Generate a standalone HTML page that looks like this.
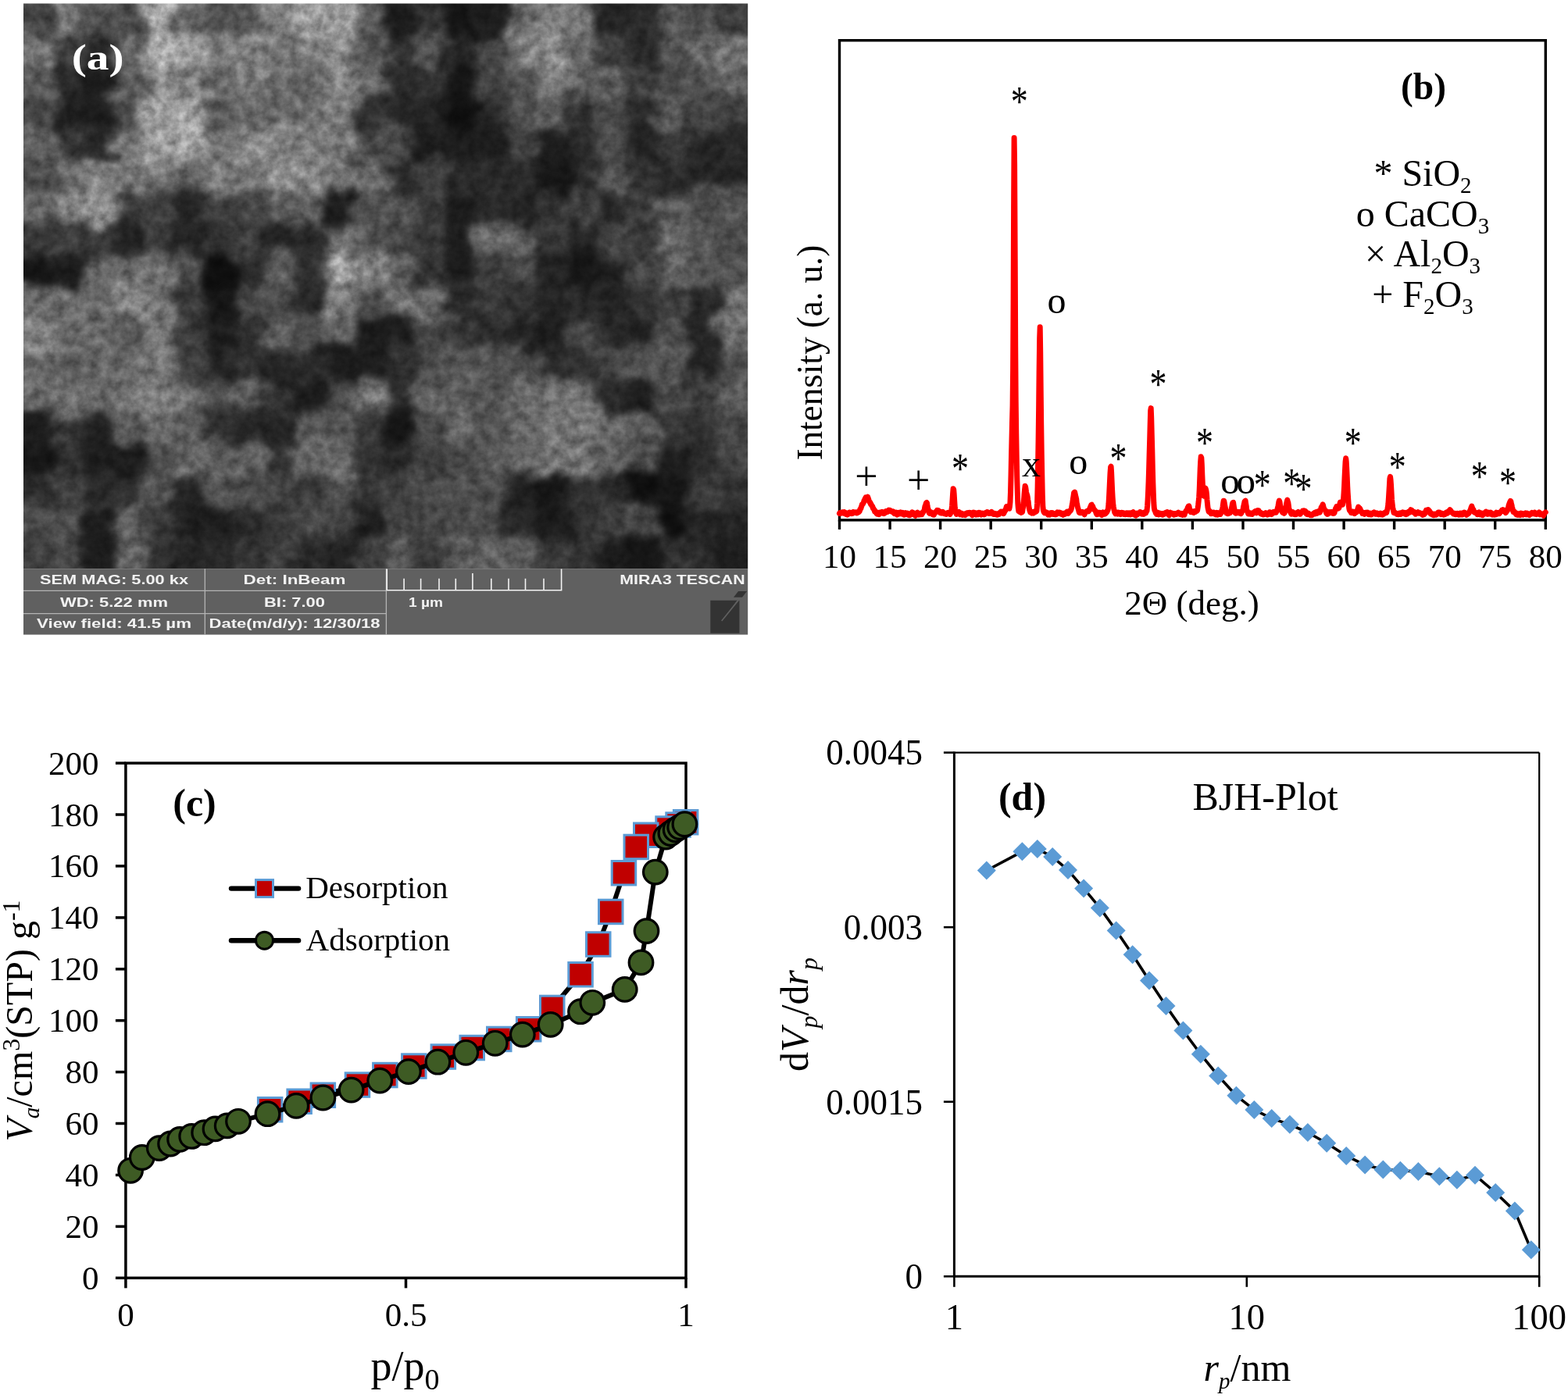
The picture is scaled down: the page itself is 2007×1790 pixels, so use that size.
<!DOCTYPE html>
<html><head><meta charset="utf-8"><title>Figure</title>
<style>html,body{margin:0;padding:0;background:#fff;}svg{display:block;}</style>
</head><body>
<svg width="2007" height="1790" viewBox="0 0 2007 1790">
<defs><clipPath id="semclip"><rect x="30" y="4.6" width="927.2" height="723.6"/></clipPath>
<filter id="semf" x="-100" y="-100" width="1200" height="920" filterUnits="userSpaceOnUse" color-interpolation-filters="sRGB"><feTurbulence type="fractalNoise" baseFrequency="0.035" numOctaves="3" seed="11" result="dn"/><feDisplacementMap in="SourceGraphic" in2="dn" scale="44" xChannelSelector="R" yChannelSelector="G" result="d"/><feGaussianBlur in="d" stdDeviation="5" result="b"/><feTurbulence type="fractalNoise" baseFrequency="0.07" numOctaves="4" seed="5" result="n"/><feColorMatrix in="n" type="matrix" values="1 0 0 0 0 1 0 0 0 0 1 0 0 0 0 0 0 0 0 1" result="ng"/><feComposite in="b" in2="ng" operator="arithmetic" k1="0.8" k2="0.6" k3="0" k4="0"/></filter></defs>
<g clip-path="url(#semclip)"><g filter="url(#semf)">
<rect x="-8.6" y="-35.6" width="39.2" height="40.8" fill="rgb(69,69,69)"/>
<rect x="30" y="-35.6" width="39.2" height="40.8" fill="rgb(69,69,69)"/>
<rect x="68.6" y="-35.6" width="39.2" height="40.8" fill="rgb(116,116,116)"/>
<rect x="107.3" y="-35.6" width="39.2" height="40.8" fill="rgb(83,83,83)"/>
<rect x="145.9" y="-35.6" width="39.2" height="40.8" fill="rgb(76,76,76)"/>
<rect x="184.5" y="-35.6" width="39.2" height="40.8" fill="rgb(170,170,170)"/>
<rect x="223.2" y="-35.6" width="39.2" height="40.8" fill="rgb(103,103,103)"/>
<rect x="261.8" y="-35.6" width="39.2" height="40.8" fill="rgb(76,76,76)"/>
<rect x="300.4" y="-35.6" width="39.2" height="40.8" fill="rgb(90,90,90)"/>
<rect x="339.1" y="-35.6" width="39.2" height="40.8" fill="rgb(130,130,130)"/>
<rect x="377.7" y="-35.6" width="39.2" height="40.8" fill="rgb(157,157,157)"/>
<rect x="416.3" y="-35.6" width="39.2" height="40.8" fill="rgb(157,157,157)"/>
<rect x="455" y="-35.6" width="39.2" height="40.8" fill="rgb(90,90,90)"/>
<rect x="493.6" y="-35.6" width="39.2" height="40.8" fill="rgb(29,29,29)"/>
<rect x="532.2" y="-35.6" width="39.2" height="40.8" fill="rgb(49,49,49)"/>
<rect x="570.9" y="-35.6" width="39.2" height="40.8" fill="rgb(22,22,22)"/>
<rect x="609.5" y="-35.6" width="39.2" height="40.8" fill="rgb(29,29,29)"/>
<rect x="648.1" y="-35.6" width="39.2" height="40.8" fill="rgb(103,103,103)"/>
<rect x="686.8" y="-35.6" width="39.2" height="40.8" fill="rgb(130,130,130)"/>
<rect x="725.4" y="-35.6" width="39.2" height="40.8" fill="rgb(116,116,116)"/>
<rect x="764" y="-35.6" width="39.2" height="40.8" fill="rgb(36,36,36)"/>
<rect x="802.7" y="-35.6" width="39.2" height="40.8" fill="rgb(42,42,42)"/>
<rect x="841.3" y="-35.6" width="39.2" height="40.8" fill="rgb(83,83,83)"/>
<rect x="879.9" y="-35.6" width="39.2" height="40.8" fill="rgb(76,76,76)"/>
<rect x="918.6" y="-35.6" width="39.2" height="40.8" fill="rgb(62,62,62)"/>
<rect x="957.2" y="-35.6" width="39.2" height="40.8" fill="rgb(62,62,62)"/>
<rect x="-8.6" y="4.6" width="39.2" height="40.8" fill="rgb(69,69,69)"/>
<rect x="30" y="4.6" width="39.2" height="40.8" fill="rgb(69,69,69)"/>
<rect x="68.6" y="4.6" width="39.2" height="40.8" fill="rgb(116,116,116)"/>
<rect x="107.3" y="4.6" width="39.2" height="40.8" fill="rgb(83,83,83)"/>
<rect x="145.9" y="4.6" width="39.2" height="40.8" fill="rgb(76,76,76)"/>
<rect x="184.5" y="4.6" width="39.2" height="40.8" fill="rgb(170,170,170)"/>
<rect x="223.2" y="4.6" width="39.2" height="40.8" fill="rgb(103,103,103)"/>
<rect x="261.8" y="4.6" width="39.2" height="40.8" fill="rgb(76,76,76)"/>
<rect x="300.4" y="4.6" width="39.2" height="40.8" fill="rgb(90,90,90)"/>
<rect x="339.1" y="4.6" width="39.2" height="40.8" fill="rgb(130,130,130)"/>
<rect x="377.7" y="4.6" width="39.2" height="40.8" fill="rgb(157,157,157)"/>
<rect x="416.3" y="4.6" width="39.2" height="40.8" fill="rgb(157,157,157)"/>
<rect x="455" y="4.6" width="39.2" height="40.8" fill="rgb(90,90,90)"/>
<rect x="493.6" y="4.6" width="39.2" height="40.8" fill="rgb(29,29,29)"/>
<rect x="532.2" y="4.6" width="39.2" height="40.8" fill="rgb(49,49,49)"/>
<rect x="570.9" y="4.6" width="39.2" height="40.8" fill="rgb(22,22,22)"/>
<rect x="609.5" y="4.6" width="39.2" height="40.8" fill="rgb(29,29,29)"/>
<rect x="648.1" y="4.6" width="39.2" height="40.8" fill="rgb(103,103,103)"/>
<rect x="686.8" y="4.6" width="39.2" height="40.8" fill="rgb(130,130,130)"/>
<rect x="725.4" y="4.6" width="39.2" height="40.8" fill="rgb(116,116,116)"/>
<rect x="764" y="4.6" width="39.2" height="40.8" fill="rgb(36,36,36)"/>
<rect x="802.7" y="4.6" width="39.2" height="40.8" fill="rgb(42,42,42)"/>
<rect x="841.3" y="4.6" width="39.2" height="40.8" fill="rgb(83,83,83)"/>
<rect x="879.9" y="4.6" width="39.2" height="40.8" fill="rgb(76,76,76)"/>
<rect x="918.6" y="4.6" width="39.2" height="40.8" fill="rgb(62,62,62)"/>
<rect x="957.2" y="4.6" width="39.2" height="40.8" fill="rgb(62,62,62)"/>
<rect x="-8.6" y="44.8" width="39.2" height="40.8" fill="rgb(116,116,116)"/>
<rect x="30" y="44.8" width="39.2" height="40.8" fill="rgb(116,116,116)"/>
<rect x="68.6" y="44.8" width="39.2" height="40.8" fill="rgb(62,62,62)"/>
<rect x="107.3" y="44.8" width="39.2" height="40.8" fill="rgb(36,36,36)"/>
<rect x="145.9" y="44.8" width="39.2" height="40.8" fill="rgb(103,103,103)"/>
<rect x="184.5" y="44.8" width="39.2" height="40.8" fill="rgb(170,170,170)"/>
<rect x="223.2" y="44.8" width="39.2" height="40.8" fill="rgb(157,157,157)"/>
<rect x="261.8" y="44.8" width="39.2" height="40.8" fill="rgb(123,123,123)"/>
<rect x="300.4" y="44.8" width="39.2" height="40.8" fill="rgb(130,130,130)"/>
<rect x="339.1" y="44.8" width="39.2" height="40.8" fill="rgb(116,116,116)"/>
<rect x="377.7" y="44.8" width="39.2" height="40.8" fill="rgb(123,123,123)"/>
<rect x="416.3" y="44.8" width="39.2" height="40.8" fill="rgb(144,144,144)"/>
<rect x="455" y="44.8" width="39.2" height="40.8" fill="rgb(83,83,83)"/>
<rect x="493.6" y="44.8" width="39.2" height="40.8" fill="rgb(49,49,49)"/>
<rect x="532.2" y="44.8" width="39.2" height="40.8" fill="rgb(83,83,83)"/>
<rect x="570.9" y="44.8" width="39.2" height="40.8" fill="rgb(36,36,36)"/>
<rect x="609.5" y="44.8" width="39.2" height="40.8" fill="rgb(69,69,69)"/>
<rect x="648.1" y="44.8" width="39.2" height="40.8" fill="rgb(123,123,123)"/>
<rect x="686.8" y="44.8" width="39.2" height="40.8" fill="rgb(137,137,137)"/>
<rect x="725.4" y="44.8" width="39.2" height="40.8" fill="rgb(103,103,103)"/>
<rect x="764" y="44.8" width="39.2" height="40.8" fill="rgb(62,62,62)"/>
<rect x="802.7" y="44.8" width="39.2" height="40.8" fill="rgb(42,42,42)"/>
<rect x="841.3" y="44.8" width="39.2" height="40.8" fill="rgb(83,83,83)"/>
<rect x="879.9" y="44.8" width="39.2" height="40.8" fill="rgb(103,103,103)"/>
<rect x="918.6" y="44.8" width="39.2" height="40.8" fill="rgb(116,116,116)"/>
<rect x="957.2" y="44.8" width="39.2" height="40.8" fill="rgb(116,116,116)"/>
<rect x="-8.6" y="85" width="39.2" height="40.8" fill="rgb(90,90,90)"/>
<rect x="30" y="85" width="39.2" height="40.8" fill="rgb(90,90,90)"/>
<rect x="68.6" y="85" width="39.2" height="40.8" fill="rgb(42,42,42)"/>
<rect x="107.3" y="85" width="39.2" height="40.8" fill="rgb(29,29,29)"/>
<rect x="145.9" y="85" width="39.2" height="40.8" fill="rgb(90,90,90)"/>
<rect x="184.5" y="85" width="39.2" height="40.8" fill="rgb(137,137,137)"/>
<rect x="223.2" y="85" width="39.2" height="40.8" fill="rgb(130,130,130)"/>
<rect x="261.8" y="85" width="39.2" height="40.8" fill="rgb(103,103,103)"/>
<rect x="300.4" y="85" width="39.2" height="40.8" fill="rgb(123,123,123)"/>
<rect x="339.1" y="85" width="39.2" height="40.8" fill="rgb(103,103,103)"/>
<rect x="377.7" y="85" width="39.2" height="40.8" fill="rgb(103,103,103)"/>
<rect x="416.3" y="85" width="39.2" height="40.8" fill="rgb(130,130,130)"/>
<rect x="455" y="85" width="39.2" height="40.8" fill="rgb(103,103,103)"/>
<rect x="493.6" y="85" width="39.2" height="40.8" fill="rgb(42,42,42)"/>
<rect x="532.2" y="85" width="39.2" height="40.8" fill="rgb(49,49,49)"/>
<rect x="570.9" y="85" width="39.2" height="40.8" fill="rgb(22,22,22)"/>
<rect x="609.5" y="85" width="39.2" height="40.8" fill="rgb(69,69,69)"/>
<rect x="648.1" y="85" width="39.2" height="40.8" fill="rgb(83,83,83)"/>
<rect x="686.8" y="85" width="39.2" height="40.8" fill="rgb(130,130,130)"/>
<rect x="725.4" y="85" width="39.2" height="40.8" fill="rgb(90,90,90)"/>
<rect x="764" y="85" width="39.2" height="40.8" fill="rgb(90,90,90)"/>
<rect x="802.7" y="85" width="39.2" height="40.8" fill="rgb(62,62,62)"/>
<rect x="841.3" y="85" width="39.2" height="40.8" fill="rgb(69,69,69)"/>
<rect x="879.9" y="85" width="39.2" height="40.8" fill="rgb(83,83,83)"/>
<rect x="918.6" y="85" width="39.2" height="40.8" fill="rgb(96,96,96)"/>
<rect x="957.2" y="85" width="39.2" height="40.8" fill="rgb(96,96,96)"/>
<rect x="-8.6" y="125.2" width="39.2" height="40.8" fill="rgb(69,69,69)"/>
<rect x="30" y="125.2" width="39.2" height="40.8" fill="rgb(69,69,69)"/>
<rect x="68.6" y="125.2" width="39.2" height="40.8" fill="rgb(29,29,29)"/>
<rect x="107.3" y="125.2" width="39.2" height="40.8" fill="rgb(29,29,29)"/>
<rect x="145.9" y="125.2" width="39.2" height="40.8" fill="rgb(76,76,76)"/>
<rect x="184.5" y="125.2" width="39.2" height="40.8" fill="rgb(157,157,157)"/>
<rect x="223.2" y="125.2" width="39.2" height="40.8" fill="rgb(157,157,157)"/>
<rect x="261.8" y="125.2" width="39.2" height="40.8" fill="rgb(90,90,90)"/>
<rect x="300.4" y="125.2" width="39.2" height="40.8" fill="rgb(103,103,103)"/>
<rect x="339.1" y="125.2" width="39.2" height="40.8" fill="rgb(103,103,103)"/>
<rect x="377.7" y="125.2" width="39.2" height="40.8" fill="rgb(110,110,110)"/>
<rect x="416.3" y="125.2" width="39.2" height="40.8" fill="rgb(123,123,123)"/>
<rect x="455" y="125.2" width="39.2" height="40.8" fill="rgb(49,49,49)"/>
<rect x="493.6" y="125.2" width="39.2" height="40.8" fill="rgb(36,36,36)"/>
<rect x="532.2" y="125.2" width="39.2" height="40.8" fill="rgb(36,36,36)"/>
<rect x="570.9" y="125.2" width="39.2" height="40.8" fill="rgb(15,15,15)"/>
<rect x="609.5" y="125.2" width="39.2" height="40.8" fill="rgb(42,42,42)"/>
<rect x="648.1" y="125.2" width="39.2" height="40.8" fill="rgb(76,76,76)"/>
<rect x="686.8" y="125.2" width="39.2" height="40.8" fill="rgb(90,90,90)"/>
<rect x="725.4" y="125.2" width="39.2" height="40.8" fill="rgb(49,49,49)"/>
<rect x="764" y="125.2" width="39.2" height="40.8" fill="rgb(69,69,69)"/>
<rect x="802.7" y="125.2" width="39.2" height="40.8" fill="rgb(42,42,42)"/>
<rect x="841.3" y="125.2" width="39.2" height="40.8" fill="rgb(90,90,90)"/>
<rect x="879.9" y="125.2" width="39.2" height="40.8" fill="rgb(69,69,69)"/>
<rect x="918.6" y="125.2" width="39.2" height="40.8" fill="rgb(62,62,62)"/>
<rect x="957.2" y="125.2" width="39.2" height="40.8" fill="rgb(62,62,62)"/>
<rect x="-8.6" y="165.4" width="39.2" height="40.8" fill="rgb(96,96,96)"/>
<rect x="30" y="165.4" width="39.2" height="40.8" fill="rgb(96,96,96)"/>
<rect x="68.6" y="165.4" width="39.2" height="40.8" fill="rgb(56,56,56)"/>
<rect x="107.3" y="165.4" width="39.2" height="40.8" fill="rgb(42,42,42)"/>
<rect x="145.9" y="165.4" width="39.2" height="40.8" fill="rgb(116,116,116)"/>
<rect x="184.5" y="165.4" width="39.2" height="40.8" fill="rgb(157,157,157)"/>
<rect x="223.2" y="165.4" width="39.2" height="40.8" fill="rgb(164,164,164)"/>
<rect x="261.8" y="165.4" width="39.2" height="40.8" fill="rgb(116,116,116)"/>
<rect x="300.4" y="165.4" width="39.2" height="40.8" fill="rgb(137,137,137)"/>
<rect x="339.1" y="165.4" width="39.2" height="40.8" fill="rgb(130,130,130)"/>
<rect x="377.7" y="165.4" width="39.2" height="40.8" fill="rgb(123,123,123)"/>
<rect x="416.3" y="165.4" width="39.2" height="40.8" fill="rgb(116,116,116)"/>
<rect x="455" y="165.4" width="39.2" height="40.8" fill="rgb(76,76,76)"/>
<rect x="493.6" y="165.4" width="39.2" height="40.8" fill="rgb(69,69,69)"/>
<rect x="532.2" y="165.4" width="39.2" height="40.8" fill="rgb(29,29,29)"/>
<rect x="570.9" y="165.4" width="39.2" height="40.8" fill="rgb(29,29,29)"/>
<rect x="609.5" y="165.4" width="39.2" height="40.8" fill="rgb(29,29,29)"/>
<rect x="648.1" y="165.4" width="39.2" height="40.8" fill="rgb(62,62,62)"/>
<rect x="686.8" y="165.4" width="39.2" height="40.8" fill="rgb(29,29,29)"/>
<rect x="725.4" y="165.4" width="39.2" height="40.8" fill="rgb(42,42,42)"/>
<rect x="764" y="165.4" width="39.2" height="40.8" fill="rgb(76,76,76)"/>
<rect x="802.7" y="165.4" width="39.2" height="40.8" fill="rgb(36,36,36)"/>
<rect x="841.3" y="165.4" width="39.2" height="40.8" fill="rgb(56,56,56)"/>
<rect x="879.9" y="165.4" width="39.2" height="40.8" fill="rgb(36,36,36)"/>
<rect x="918.6" y="165.4" width="39.2" height="40.8" fill="rgb(42,42,42)"/>
<rect x="957.2" y="165.4" width="39.2" height="40.8" fill="rgb(42,42,42)"/>
<rect x="-8.6" y="205.6" width="39.2" height="40.8" fill="rgb(76,76,76)"/>
<rect x="30" y="205.6" width="39.2" height="40.8" fill="rgb(76,76,76)"/>
<rect x="68.6" y="205.6" width="39.2" height="40.8" fill="rgb(103,103,103)"/>
<rect x="107.3" y="205.6" width="39.2" height="40.8" fill="rgb(130,130,130)"/>
<rect x="145.9" y="205.6" width="39.2" height="40.8" fill="rgb(116,116,116)"/>
<rect x="184.5" y="205.6" width="39.2" height="40.8" fill="rgb(116,116,116)"/>
<rect x="223.2" y="205.6" width="39.2" height="40.8" fill="rgb(103,103,103)"/>
<rect x="261.8" y="205.6" width="39.2" height="40.8" fill="rgb(123,123,123)"/>
<rect x="300.4" y="205.6" width="39.2" height="40.8" fill="rgb(116,116,116)"/>
<rect x="339.1" y="205.6" width="39.2" height="40.8" fill="rgb(137,137,137)"/>
<rect x="377.7" y="205.6" width="39.2" height="40.8" fill="rgb(137,137,137)"/>
<rect x="416.3" y="205.6" width="39.2" height="40.8" fill="rgb(116,116,116)"/>
<rect x="455" y="205.6" width="39.2" height="40.8" fill="rgb(103,103,103)"/>
<rect x="493.6" y="205.6" width="39.2" height="40.8" fill="rgb(42,42,42)"/>
<rect x="532.2" y="205.6" width="39.2" height="40.8" fill="rgb(62,62,62)"/>
<rect x="570.9" y="205.6" width="39.2" height="40.8" fill="rgb(42,42,42)"/>
<rect x="609.5" y="205.6" width="39.2" height="40.8" fill="rgb(42,42,42)"/>
<rect x="648.1" y="205.6" width="39.2" height="40.8" fill="rgb(42,42,42)"/>
<rect x="686.8" y="205.6" width="39.2" height="40.8" fill="rgb(22,22,22)"/>
<rect x="725.4" y="205.6" width="39.2" height="40.8" fill="rgb(42,42,42)"/>
<rect x="764" y="205.6" width="39.2" height="40.8" fill="rgb(83,83,83)"/>
<rect x="802.7" y="205.6" width="39.2" height="40.8" fill="rgb(49,49,49)"/>
<rect x="841.3" y="205.6" width="39.2" height="40.8" fill="rgb(42,42,42)"/>
<rect x="879.9" y="205.6" width="39.2" height="40.8" fill="rgb(36,36,36)"/>
<rect x="918.6" y="205.6" width="39.2" height="40.8" fill="rgb(36,36,36)"/>
<rect x="957.2" y="205.6" width="39.2" height="40.8" fill="rgb(36,36,36)"/>
<rect x="-8.6" y="245.8" width="39.2" height="40.8" fill="rgb(103,103,103)"/>
<rect x="30" y="245.8" width="39.2" height="40.8" fill="rgb(103,103,103)"/>
<rect x="68.6" y="245.8" width="39.2" height="40.8" fill="rgb(130,130,130)"/>
<rect x="107.3" y="245.8" width="39.2" height="40.8" fill="rgb(144,144,144)"/>
<rect x="145.9" y="245.8" width="39.2" height="40.8" fill="rgb(56,56,56)"/>
<rect x="184.5" y="245.8" width="39.2" height="40.8" fill="rgb(62,62,62)"/>
<rect x="223.2" y="245.8" width="39.2" height="40.8" fill="rgb(36,36,36)"/>
<rect x="261.8" y="245.8" width="39.2" height="40.8" fill="rgb(62,62,62)"/>
<rect x="300.4" y="245.8" width="39.2" height="40.8" fill="rgb(69,69,69)"/>
<rect x="339.1" y="245.8" width="39.2" height="40.8" fill="rgb(90,90,90)"/>
<rect x="377.7" y="245.8" width="39.2" height="40.8" fill="rgb(90,90,90)"/>
<rect x="416.3" y="245.8" width="39.2" height="40.8" fill="rgb(29,29,29)"/>
<rect x="455" y="245.8" width="39.2" height="40.8" fill="rgb(76,76,76)"/>
<rect x="493.6" y="245.8" width="39.2" height="40.8" fill="rgb(83,83,83)"/>
<rect x="532.2" y="245.8" width="39.2" height="40.8" fill="rgb(56,56,56)"/>
<rect x="570.9" y="245.8" width="39.2" height="40.8" fill="rgb(29,29,29)"/>
<rect x="609.5" y="245.8" width="39.2" height="40.8" fill="rgb(42,42,42)"/>
<rect x="648.1" y="245.8" width="39.2" height="40.8" fill="rgb(36,36,36)"/>
<rect x="686.8" y="245.8" width="39.2" height="40.8" fill="rgb(49,49,49)"/>
<rect x="725.4" y="245.8" width="39.2" height="40.8" fill="rgb(62,62,62)"/>
<rect x="764" y="245.8" width="39.2" height="40.8" fill="rgb(42,42,42)"/>
<rect x="802.7" y="245.8" width="39.2" height="40.8" fill="rgb(62,62,62)"/>
<rect x="841.3" y="245.8" width="39.2" height="40.8" fill="rgb(90,90,90)"/>
<rect x="879.9" y="245.8" width="39.2" height="40.8" fill="rgb(76,76,76)"/>
<rect x="918.6" y="245.8" width="39.2" height="40.8" fill="rgb(83,83,83)"/>
<rect x="957.2" y="245.8" width="39.2" height="40.8" fill="rgb(83,83,83)"/>
<rect x="-8.6" y="286" width="39.2" height="40.8" fill="rgb(56,56,56)"/>
<rect x="30" y="286" width="39.2" height="40.8" fill="rgb(56,56,56)"/>
<rect x="68.6" y="286" width="39.2" height="40.8" fill="rgb(62,62,62)"/>
<rect x="107.3" y="286" width="39.2" height="40.8" fill="rgb(56,56,56)"/>
<rect x="145.9" y="286" width="39.2" height="40.8" fill="rgb(36,36,36)"/>
<rect x="184.5" y="286" width="39.2" height="40.8" fill="rgb(62,62,62)"/>
<rect x="223.2" y="286" width="39.2" height="40.8" fill="rgb(36,36,36)"/>
<rect x="261.8" y="286" width="39.2" height="40.8" fill="rgb(49,49,49)"/>
<rect x="300.4" y="286" width="39.2" height="40.8" fill="rgb(62,62,62)"/>
<rect x="339.1" y="286" width="39.2" height="40.8" fill="rgb(36,36,36)"/>
<rect x="377.7" y="286" width="39.2" height="40.8" fill="rgb(42,42,42)"/>
<rect x="416.3" y="286" width="39.2" height="40.8" fill="rgb(116,116,116)"/>
<rect x="455" y="286" width="39.2" height="40.8" fill="rgb(83,83,83)"/>
<rect x="493.6" y="286" width="39.2" height="40.8" fill="rgb(69,69,69)"/>
<rect x="532.2" y="286" width="39.2" height="40.8" fill="rgb(56,56,56)"/>
<rect x="570.9" y="286" width="39.2" height="40.8" fill="rgb(29,29,29)"/>
<rect x="609.5" y="286" width="39.2" height="40.8" fill="rgb(103,103,103)"/>
<rect x="648.1" y="286" width="39.2" height="40.8" fill="rgb(96,96,96)"/>
<rect x="686.8" y="286" width="39.2" height="40.8" fill="rgb(56,56,56)"/>
<rect x="725.4" y="286" width="39.2" height="40.8" fill="rgb(36,36,36)"/>
<rect x="764" y="286" width="39.2" height="40.8" fill="rgb(69,69,69)"/>
<rect x="802.7" y="286" width="39.2" height="40.8" fill="rgb(56,56,56)"/>
<rect x="841.3" y="286" width="39.2" height="40.8" fill="rgb(103,103,103)"/>
<rect x="879.9" y="286" width="39.2" height="40.8" fill="rgb(83,83,83)"/>
<rect x="918.6" y="286" width="39.2" height="40.8" fill="rgb(76,76,76)"/>
<rect x="957.2" y="286" width="39.2" height="40.8" fill="rgb(76,76,76)"/>
<rect x="-8.6" y="326.2" width="39.2" height="40.8" fill="rgb(22,22,22)"/>
<rect x="30" y="326.2" width="39.2" height="40.8" fill="rgb(22,22,22)"/>
<rect x="68.6" y="326.2" width="39.2" height="40.8" fill="rgb(29,29,29)"/>
<rect x="107.3" y="326.2" width="39.2" height="40.8" fill="rgb(103,103,103)"/>
<rect x="145.9" y="326.2" width="39.2" height="40.8" fill="rgb(110,110,110)"/>
<rect x="184.5" y="326.2" width="39.2" height="40.8" fill="rgb(110,110,110)"/>
<rect x="223.2" y="326.2" width="39.2" height="40.8" fill="rgb(76,76,76)"/>
<rect x="261.8" y="326.2" width="39.2" height="40.8" fill="rgb(15,15,15)"/>
<rect x="300.4" y="326.2" width="39.2" height="40.8" fill="rgb(42,42,42)"/>
<rect x="339.1" y="326.2" width="39.2" height="40.8" fill="rgb(90,90,90)"/>
<rect x="377.7" y="326.2" width="39.2" height="40.8" fill="rgb(49,49,49)"/>
<rect x="416.3" y="326.2" width="39.2" height="40.8" fill="rgb(157,157,157)"/>
<rect x="455" y="326.2" width="39.2" height="40.8" fill="rgb(130,130,130)"/>
<rect x="493.6" y="326.2" width="39.2" height="40.8" fill="rgb(90,90,90)"/>
<rect x="532.2" y="326.2" width="39.2" height="40.8" fill="rgb(49,49,49)"/>
<rect x="570.9" y="326.2" width="39.2" height="40.8" fill="rgb(29,29,29)"/>
<rect x="609.5" y="326.2" width="39.2" height="40.8" fill="rgb(62,62,62)"/>
<rect x="648.1" y="326.2" width="39.2" height="40.8" fill="rgb(76,76,76)"/>
<rect x="686.8" y="326.2" width="39.2" height="40.8" fill="rgb(36,36,36)"/>
<rect x="725.4" y="326.2" width="39.2" height="40.8" fill="rgb(22,22,22)"/>
<rect x="764" y="326.2" width="39.2" height="40.8" fill="rgb(29,29,29)"/>
<rect x="802.7" y="326.2" width="39.2" height="40.8" fill="rgb(69,69,69)"/>
<rect x="841.3" y="326.2" width="39.2" height="40.8" fill="rgb(96,96,96)"/>
<rect x="879.9" y="326.2" width="39.2" height="40.8" fill="rgb(83,83,83)"/>
<rect x="918.6" y="326.2" width="39.2" height="40.8" fill="rgb(83,83,83)"/>
<rect x="957.2" y="326.2" width="39.2" height="40.8" fill="rgb(83,83,83)"/>
<rect x="-8.6" y="366.4" width="39.2" height="40.8" fill="rgb(103,103,103)"/>
<rect x="30" y="366.4" width="39.2" height="40.8" fill="rgb(103,103,103)"/>
<rect x="68.6" y="366.4" width="39.2" height="40.8" fill="rgb(110,110,110)"/>
<rect x="107.3" y="366.4" width="39.2" height="40.8" fill="rgb(103,103,103)"/>
<rect x="145.9" y="366.4" width="39.2" height="40.8" fill="rgb(130,130,130)"/>
<rect x="184.5" y="366.4" width="39.2" height="40.8" fill="rgb(116,116,116)"/>
<rect x="223.2" y="366.4" width="39.2" height="40.8" fill="rgb(56,56,56)"/>
<rect x="261.8" y="366.4" width="39.2" height="40.8" fill="rgb(22,22,22)"/>
<rect x="300.4" y="366.4" width="39.2" height="40.8" fill="rgb(69,69,69)"/>
<rect x="339.1" y="366.4" width="39.2" height="40.8" fill="rgb(76,76,76)"/>
<rect x="377.7" y="366.4" width="39.2" height="40.8" fill="rgb(42,42,42)"/>
<rect x="416.3" y="366.4" width="39.2" height="40.8" fill="rgb(123,123,123)"/>
<rect x="455" y="366.4" width="39.2" height="40.8" fill="rgb(76,76,76)"/>
<rect x="493.6" y="366.4" width="39.2" height="40.8" fill="rgb(116,116,116)"/>
<rect x="532.2" y="366.4" width="39.2" height="40.8" fill="rgb(103,103,103)"/>
<rect x="570.9" y="366.4" width="39.2" height="40.8" fill="rgb(42,42,42)"/>
<rect x="609.5" y="366.4" width="39.2" height="40.8" fill="rgb(56,56,56)"/>
<rect x="648.1" y="366.4" width="39.2" height="40.8" fill="rgb(49,49,49)"/>
<rect x="686.8" y="366.4" width="39.2" height="40.8" fill="rgb(36,36,36)"/>
<rect x="725.4" y="366.4" width="39.2" height="40.8" fill="rgb(42,42,42)"/>
<rect x="764" y="366.4" width="39.2" height="40.8" fill="rgb(36,36,36)"/>
<rect x="802.7" y="366.4" width="39.2" height="40.8" fill="rgb(49,49,49)"/>
<rect x="841.3" y="366.4" width="39.2" height="40.8" fill="rgb(62,62,62)"/>
<rect x="879.9" y="366.4" width="39.2" height="40.8" fill="rgb(42,42,42)"/>
<rect x="918.6" y="366.4" width="39.2" height="40.8" fill="rgb(116,116,116)"/>
<rect x="957.2" y="366.4" width="39.2" height="40.8" fill="rgb(116,116,116)"/>
<rect x="-8.6" y="406.6" width="39.2" height="40.8" fill="rgb(130,130,130)"/>
<rect x="30" y="406.6" width="39.2" height="40.8" fill="rgb(130,130,130)"/>
<rect x="68.6" y="406.6" width="39.2" height="40.8" fill="rgb(103,103,103)"/>
<rect x="107.3" y="406.6" width="39.2" height="40.8" fill="rgb(103,103,103)"/>
<rect x="145.9" y="406.6" width="39.2" height="40.8" fill="rgb(90,90,90)"/>
<rect x="184.5" y="406.6" width="39.2" height="40.8" fill="rgb(123,123,123)"/>
<rect x="223.2" y="406.6" width="39.2" height="40.8" fill="rgb(62,62,62)"/>
<rect x="261.8" y="406.6" width="39.2" height="40.8" fill="rgb(29,29,29)"/>
<rect x="300.4" y="406.6" width="39.2" height="40.8" fill="rgb(49,49,49)"/>
<rect x="339.1" y="406.6" width="39.2" height="40.8" fill="rgb(90,90,90)"/>
<rect x="377.7" y="406.6" width="39.2" height="40.8" fill="rgb(76,76,76)"/>
<rect x="416.3" y="406.6" width="39.2" height="40.8" fill="rgb(96,96,96)"/>
<rect x="455" y="406.6" width="39.2" height="40.8" fill="rgb(29,29,29)"/>
<rect x="493.6" y="406.6" width="39.2" height="40.8" fill="rgb(29,29,29)"/>
<rect x="532.2" y="406.6" width="39.2" height="40.8" fill="rgb(62,62,62)"/>
<rect x="570.9" y="406.6" width="39.2" height="40.8" fill="rgb(56,56,56)"/>
<rect x="609.5" y="406.6" width="39.2" height="40.8" fill="rgb(42,42,42)"/>
<rect x="648.1" y="406.6" width="39.2" height="40.8" fill="rgb(36,36,36)"/>
<rect x="686.8" y="406.6" width="39.2" height="40.8" fill="rgb(29,29,29)"/>
<rect x="725.4" y="406.6" width="39.2" height="40.8" fill="rgb(69,69,69)"/>
<rect x="764" y="406.6" width="39.2" height="40.8" fill="rgb(42,42,42)"/>
<rect x="802.7" y="406.6" width="39.2" height="40.8" fill="rgb(29,29,29)"/>
<rect x="841.3" y="406.6" width="39.2" height="40.8" fill="rgb(76,76,76)"/>
<rect x="879.9" y="406.6" width="39.2" height="40.8" fill="rgb(36,36,36)"/>
<rect x="918.6" y="406.6" width="39.2" height="40.8" fill="rgb(110,110,110)"/>
<rect x="957.2" y="406.6" width="39.2" height="40.8" fill="rgb(110,110,110)"/>
<rect x="-8.6" y="446.8" width="39.2" height="40.8" fill="rgb(103,103,103)"/>
<rect x="30" y="446.8" width="39.2" height="40.8" fill="rgb(103,103,103)"/>
<rect x="68.6" y="446.8" width="39.2" height="40.8" fill="rgb(90,90,90)"/>
<rect x="107.3" y="446.8" width="39.2" height="40.8" fill="rgb(103,103,103)"/>
<rect x="145.9" y="446.8" width="39.2" height="40.8" fill="rgb(103,103,103)"/>
<rect x="184.5" y="446.8" width="39.2" height="40.8" fill="rgb(116,116,116)"/>
<rect x="223.2" y="446.8" width="39.2" height="40.8" fill="rgb(62,62,62)"/>
<rect x="261.8" y="446.8" width="39.2" height="40.8" fill="rgb(36,36,36)"/>
<rect x="300.4" y="446.8" width="39.2" height="40.8" fill="rgb(49,49,49)"/>
<rect x="339.1" y="446.8" width="39.2" height="40.8" fill="rgb(36,36,36)"/>
<rect x="377.7" y="446.8" width="39.2" height="40.8" fill="rgb(42,42,42)"/>
<rect x="416.3" y="446.8" width="39.2" height="40.8" fill="rgb(29,29,29)"/>
<rect x="455" y="446.8" width="39.2" height="40.8" fill="rgb(29,29,29)"/>
<rect x="493.6" y="446.8" width="39.2" height="40.8" fill="rgb(49,49,49)"/>
<rect x="532.2" y="446.8" width="39.2" height="40.8" fill="rgb(76,76,76)"/>
<rect x="570.9" y="446.8" width="39.2" height="40.8" fill="rgb(90,90,90)"/>
<rect x="609.5" y="446.8" width="39.2" height="40.8" fill="rgb(83,83,83)"/>
<rect x="648.1" y="446.8" width="39.2" height="40.8" fill="rgb(76,76,76)"/>
<rect x="686.8" y="446.8" width="39.2" height="40.8" fill="rgb(42,42,42)"/>
<rect x="725.4" y="446.8" width="39.2" height="40.8" fill="rgb(49,49,49)"/>
<rect x="764" y="446.8" width="39.2" height="40.8" fill="rgb(69,69,69)"/>
<rect x="802.7" y="446.8" width="39.2" height="40.8" fill="rgb(83,83,83)"/>
<rect x="841.3" y="446.8" width="39.2" height="40.8" fill="rgb(83,83,83)"/>
<rect x="879.9" y="446.8" width="39.2" height="40.8" fill="rgb(36,36,36)"/>
<rect x="918.6" y="446.8" width="39.2" height="40.8" fill="rgb(76,76,76)"/>
<rect x="957.2" y="446.8" width="39.2" height="40.8" fill="rgb(76,76,76)"/>
<rect x="-8.6" y="487" width="39.2" height="40.8" fill="rgb(103,103,103)"/>
<rect x="30" y="487" width="39.2" height="40.8" fill="rgb(103,103,103)"/>
<rect x="68.6" y="487" width="39.2" height="40.8" fill="rgb(110,110,110)"/>
<rect x="107.3" y="487" width="39.2" height="40.8" fill="rgb(103,103,103)"/>
<rect x="145.9" y="487" width="39.2" height="40.8" fill="rgb(116,116,116)"/>
<rect x="184.5" y="487" width="39.2" height="40.8" fill="rgb(123,123,123)"/>
<rect x="223.2" y="487" width="39.2" height="40.8" fill="rgb(110,110,110)"/>
<rect x="261.8" y="487" width="39.2" height="40.8" fill="rgb(76,76,76)"/>
<rect x="300.4" y="487" width="39.2" height="40.8" fill="rgb(90,90,90)"/>
<rect x="339.1" y="487" width="39.2" height="40.8" fill="rgb(49,49,49)"/>
<rect x="377.7" y="487" width="39.2" height="40.8" fill="rgb(29,29,29)"/>
<rect x="416.3" y="487" width="39.2" height="40.8" fill="rgb(76,76,76)"/>
<rect x="455" y="487" width="39.2" height="40.8" fill="rgb(116,116,116)"/>
<rect x="493.6" y="487" width="39.2" height="40.8" fill="rgb(42,42,42)"/>
<rect x="532.2" y="487" width="39.2" height="40.8" fill="rgb(96,96,96)"/>
<rect x="570.9" y="487" width="39.2" height="40.8" fill="rgb(90,90,90)"/>
<rect x="609.5" y="487" width="39.2" height="40.8" fill="rgb(83,83,83)"/>
<rect x="648.1" y="487" width="39.2" height="40.8" fill="rgb(103,103,103)"/>
<rect x="686.8" y="487" width="39.2" height="40.8" fill="rgb(110,110,110)"/>
<rect x="725.4" y="487" width="39.2" height="40.8" fill="rgb(116,116,116)"/>
<rect x="764" y="487" width="39.2" height="40.8" fill="rgb(42,42,42)"/>
<rect x="802.7" y="487" width="39.2" height="40.8" fill="rgb(29,29,29)"/>
<rect x="841.3" y="487" width="39.2" height="40.8" fill="rgb(69,69,69)"/>
<rect x="879.9" y="487" width="39.2" height="40.8" fill="rgb(62,62,62)"/>
<rect x="918.6" y="487" width="39.2" height="40.8" fill="rgb(90,90,90)"/>
<rect x="957.2" y="487" width="39.2" height="40.8" fill="rgb(90,90,90)"/>
<rect x="-8.6" y="527.2" width="39.2" height="40.8" fill="rgb(29,29,29)"/>
<rect x="30" y="527.2" width="39.2" height="40.8" fill="rgb(29,29,29)"/>
<rect x="68.6" y="527.2" width="39.2" height="40.8" fill="rgb(56,56,56)"/>
<rect x="107.3" y="527.2" width="39.2" height="40.8" fill="rgb(36,36,36)"/>
<rect x="145.9" y="527.2" width="39.2" height="40.8" fill="rgb(90,90,90)"/>
<rect x="184.5" y="527.2" width="39.2" height="40.8" fill="rgb(110,110,110)"/>
<rect x="223.2" y="527.2" width="39.2" height="40.8" fill="rgb(90,90,90)"/>
<rect x="261.8" y="527.2" width="39.2" height="40.8" fill="rgb(49,49,49)"/>
<rect x="300.4" y="527.2" width="39.2" height="40.8" fill="rgb(36,36,36)"/>
<rect x="339.1" y="527.2" width="39.2" height="40.8" fill="rgb(36,36,36)"/>
<rect x="377.7" y="527.2" width="39.2" height="40.8" fill="rgb(90,90,90)"/>
<rect x="416.3" y="527.2" width="39.2" height="40.8" fill="rgb(83,83,83)"/>
<rect x="455" y="527.2" width="39.2" height="40.8" fill="rgb(56,56,56)"/>
<rect x="493.6" y="527.2" width="39.2" height="40.8" fill="rgb(22,22,22)"/>
<rect x="532.2" y="527.2" width="39.2" height="40.8" fill="rgb(76,76,76)"/>
<rect x="570.9" y="527.2" width="39.2" height="40.8" fill="rgb(103,103,103)"/>
<rect x="609.5" y="527.2" width="39.2" height="40.8" fill="rgb(83,83,83)"/>
<rect x="648.1" y="527.2" width="39.2" height="40.8" fill="rgb(103,103,103)"/>
<rect x="686.8" y="527.2" width="39.2" height="40.8" fill="rgb(116,116,116)"/>
<rect x="725.4" y="527.2" width="39.2" height="40.8" fill="rgb(116,116,116)"/>
<rect x="764" y="527.2" width="39.2" height="40.8" fill="rgb(103,103,103)"/>
<rect x="802.7" y="527.2" width="39.2" height="40.8" fill="rgb(87,87,87)"/>
<rect x="841.3" y="527.2" width="39.2" height="40.8" fill="rgb(56,56,56)"/>
<rect x="879.9" y="527.2" width="39.2" height="40.8" fill="rgb(49,49,49)"/>
<rect x="918.6" y="527.2" width="39.2" height="40.8" fill="rgb(69,69,69)"/>
<rect x="957.2" y="527.2" width="39.2" height="40.8" fill="rgb(69,69,69)"/>
<rect x="-8.6" y="567.4" width="39.2" height="40.8" fill="rgb(22,22,22)"/>
<rect x="30" y="567.4" width="39.2" height="40.8" fill="rgb(22,22,22)"/>
<rect x="68.6" y="567.4" width="39.2" height="40.8" fill="rgb(49,49,49)"/>
<rect x="107.3" y="567.4" width="39.2" height="40.8" fill="rgb(29,29,29)"/>
<rect x="145.9" y="567.4" width="39.2" height="40.8" fill="rgb(29,29,29)"/>
<rect x="184.5" y="567.4" width="39.2" height="40.8" fill="rgb(76,76,76)"/>
<rect x="223.2" y="567.4" width="39.2" height="40.8" fill="rgb(103,103,103)"/>
<rect x="261.8" y="567.4" width="39.2" height="40.8" fill="rgb(90,90,90)"/>
<rect x="300.4" y="567.4" width="39.2" height="40.8" fill="rgb(96,96,96)"/>
<rect x="339.1" y="567.4" width="39.2" height="40.8" fill="rgb(49,49,49)"/>
<rect x="377.7" y="567.4" width="39.2" height="40.8" fill="rgb(103,103,103)"/>
<rect x="416.3" y="567.4" width="39.2" height="40.8" fill="rgb(103,103,103)"/>
<rect x="455" y="567.4" width="39.2" height="40.8" fill="rgb(49,49,49)"/>
<rect x="493.6" y="567.4" width="39.2" height="40.8" fill="rgb(42,42,42)"/>
<rect x="532.2" y="567.4" width="39.2" height="40.8" fill="rgb(62,62,62)"/>
<rect x="570.9" y="567.4" width="39.2" height="40.8" fill="rgb(69,69,69)"/>
<rect x="609.5" y="567.4" width="39.2" height="40.8" fill="rgb(90,90,90)"/>
<rect x="648.1" y="567.4" width="39.2" height="40.8" fill="rgb(96,96,96)"/>
<rect x="686.8" y="567.4" width="39.2" height="40.8" fill="rgb(116,116,116)"/>
<rect x="725.4" y="567.4" width="39.2" height="40.8" fill="rgb(116,116,116)"/>
<rect x="764" y="567.4" width="39.2" height="40.8" fill="rgb(96,96,96)"/>
<rect x="802.7" y="567.4" width="39.2" height="40.8" fill="rgb(76,76,76)"/>
<rect x="841.3" y="567.4" width="39.2" height="40.8" fill="rgb(29,29,29)"/>
<rect x="879.9" y="567.4" width="39.2" height="40.8" fill="rgb(42,42,42)"/>
<rect x="918.6" y="567.4" width="39.2" height="40.8" fill="rgb(69,69,69)"/>
<rect x="957.2" y="567.4" width="39.2" height="40.8" fill="rgb(69,69,69)"/>
<rect x="-8.6" y="607.6" width="39.2" height="40.8" fill="rgb(42,42,42)"/>
<rect x="30" y="607.6" width="39.2" height="40.8" fill="rgb(42,42,42)"/>
<rect x="68.6" y="607.6" width="39.2" height="40.8" fill="rgb(62,62,62)"/>
<rect x="107.3" y="607.6" width="39.2" height="40.8" fill="rgb(42,42,42)"/>
<rect x="145.9" y="607.6" width="39.2" height="40.8" fill="rgb(49,49,49)"/>
<rect x="184.5" y="607.6" width="39.2" height="40.8" fill="rgb(83,83,83)"/>
<rect x="223.2" y="607.6" width="39.2" height="40.8" fill="rgb(36,36,36)"/>
<rect x="261.8" y="607.6" width="39.2" height="40.8" fill="rgb(83,83,83)"/>
<rect x="300.4" y="607.6" width="39.2" height="40.8" fill="rgb(76,76,76)"/>
<rect x="339.1" y="607.6" width="39.2" height="40.8" fill="rgb(69,69,69)"/>
<rect x="377.7" y="607.6" width="39.2" height="40.8" fill="rgb(56,56,56)"/>
<rect x="416.3" y="607.6" width="39.2" height="40.8" fill="rgb(83,83,83)"/>
<rect x="455" y="607.6" width="39.2" height="40.8" fill="rgb(56,56,56)"/>
<rect x="493.6" y="607.6" width="39.2" height="40.8" fill="rgb(62,62,62)"/>
<rect x="532.2" y="607.6" width="39.2" height="40.8" fill="rgb(76,76,76)"/>
<rect x="570.9" y="607.6" width="39.2" height="40.8" fill="rgb(76,76,76)"/>
<rect x="609.5" y="607.6" width="39.2" height="40.8" fill="rgb(76,76,76)"/>
<rect x="648.1" y="607.6" width="39.2" height="40.8" fill="rgb(29,29,29)"/>
<rect x="686.8" y="607.6" width="39.2" height="40.8" fill="rgb(22,22,22)"/>
<rect x="725.4" y="607.6" width="39.2" height="40.8" fill="rgb(49,49,49)"/>
<rect x="764" y="607.6" width="39.2" height="40.8" fill="rgb(42,42,42)"/>
<rect x="802.7" y="607.6" width="39.2" height="40.8" fill="rgb(15,15,15)"/>
<rect x="841.3" y="607.6" width="39.2" height="40.8" fill="rgb(22,22,22)"/>
<rect x="879.9" y="607.6" width="39.2" height="40.8" fill="rgb(62,62,62)"/>
<rect x="918.6" y="607.6" width="39.2" height="40.8" fill="rgb(49,49,49)"/>
<rect x="957.2" y="607.6" width="39.2" height="40.8" fill="rgb(49,49,49)"/>
<rect x="-8.6" y="647.8" width="39.2" height="40.8" fill="rgb(76,76,76)"/>
<rect x="30" y="647.8" width="39.2" height="40.8" fill="rgb(76,76,76)"/>
<rect x="68.6" y="647.8" width="39.2" height="40.8" fill="rgb(76,76,76)"/>
<rect x="107.3" y="647.8" width="39.2" height="40.8" fill="rgb(29,29,29)"/>
<rect x="145.9" y="647.8" width="39.2" height="40.8" fill="rgb(96,96,96)"/>
<rect x="184.5" y="647.8" width="39.2" height="40.8" fill="rgb(56,56,56)"/>
<rect x="223.2" y="647.8" width="39.2" height="40.8" fill="rgb(29,29,29)"/>
<rect x="261.8" y="647.8" width="39.2" height="40.8" fill="rgb(29,29,29)"/>
<rect x="300.4" y="647.8" width="39.2" height="40.8" fill="rgb(42,42,42)"/>
<rect x="339.1" y="647.8" width="39.2" height="40.8" fill="rgb(56,56,56)"/>
<rect x="377.7" y="647.8" width="39.2" height="40.8" fill="rgb(76,76,76)"/>
<rect x="416.3" y="647.8" width="39.2" height="40.8" fill="rgb(69,69,69)"/>
<rect x="455" y="647.8" width="39.2" height="40.8" fill="rgb(29,29,29)"/>
<rect x="493.6" y="647.8" width="39.2" height="40.8" fill="rgb(69,69,69)"/>
<rect x="532.2" y="647.8" width="39.2" height="40.8" fill="rgb(69,69,69)"/>
<rect x="570.9" y="647.8" width="39.2" height="40.8" fill="rgb(76,76,76)"/>
<rect x="609.5" y="647.8" width="39.2" height="40.8" fill="rgb(76,76,76)"/>
<rect x="648.1" y="647.8" width="39.2" height="40.8" fill="rgb(42,42,42)"/>
<rect x="686.8" y="647.8" width="39.2" height="40.8" fill="rgb(29,29,29)"/>
<rect x="725.4" y="647.8" width="39.2" height="40.8" fill="rgb(49,49,49)"/>
<rect x="764" y="647.8" width="39.2" height="40.8" fill="rgb(62,62,62)"/>
<rect x="802.7" y="647.8" width="39.2" height="40.8" fill="rgb(69,69,69)"/>
<rect x="841.3" y="647.8" width="39.2" height="40.8" fill="rgb(15,15,15)"/>
<rect x="879.9" y="647.8" width="39.2" height="40.8" fill="rgb(36,36,36)"/>
<rect x="918.6" y="647.8" width="39.2" height="40.8" fill="rgb(36,36,36)"/>
<rect x="957.2" y="647.8" width="39.2" height="40.8" fill="rgb(36,36,36)"/>
<rect x="-8.6" y="688" width="39.2" height="40.8" fill="rgb(62,62,62)"/>
<rect x="30" y="688" width="39.2" height="40.8" fill="rgb(62,62,62)"/>
<rect x="68.6" y="688" width="39.2" height="40.8" fill="rgb(69,69,69)"/>
<rect x="107.3" y="688" width="39.2" height="40.8" fill="rgb(29,29,29)"/>
<rect x="145.9" y="688" width="39.2" height="40.8" fill="rgb(96,96,96)"/>
<rect x="184.5" y="688" width="39.2" height="40.8" fill="rgb(49,49,49)"/>
<rect x="223.2" y="688" width="39.2" height="40.8" fill="rgb(36,36,36)"/>
<rect x="261.8" y="688" width="39.2" height="40.8" fill="rgb(42,42,42)"/>
<rect x="300.4" y="688" width="39.2" height="40.8" fill="rgb(49,49,49)"/>
<rect x="339.1" y="688" width="39.2" height="40.8" fill="rgb(62,62,62)"/>
<rect x="377.7" y="688" width="39.2" height="40.8" fill="rgb(42,42,42)"/>
<rect x="416.3" y="688" width="39.2" height="40.8" fill="rgb(36,36,36)"/>
<rect x="455" y="688" width="39.2" height="40.8" fill="rgb(62,62,62)"/>
<rect x="493.6" y="688" width="39.2" height="40.8" fill="rgb(90,90,90)"/>
<rect x="532.2" y="688" width="39.2" height="40.8" fill="rgb(56,56,56)"/>
<rect x="570.9" y="688" width="39.2" height="40.8" fill="rgb(90,90,90)"/>
<rect x="609.5" y="688" width="39.2" height="40.8" fill="rgb(96,96,96)"/>
<rect x="648.1" y="688" width="39.2" height="40.8" fill="rgb(90,90,90)"/>
<rect x="686.8" y="688" width="39.2" height="40.8" fill="rgb(56,56,56)"/>
<rect x="725.4" y="688" width="39.2" height="40.8" fill="rgb(49,49,49)"/>
<rect x="764" y="688" width="39.2" height="40.8" fill="rgb(29,29,29)"/>
<rect x="802.7" y="688" width="39.2" height="40.8" fill="rgb(22,22,22)"/>
<rect x="841.3" y="688" width="39.2" height="40.8" fill="rgb(49,49,49)"/>
<rect x="879.9" y="688" width="39.2" height="40.8" fill="rgb(42,42,42)"/>
<rect x="918.6" y="688" width="39.2" height="40.8" fill="rgb(29,29,29)"/>
<rect x="957.2" y="688" width="39.2" height="40.8" fill="rgb(29,29,29)"/>
<rect x="-8.6" y="728.2" width="39.2" height="40.8" fill="rgb(62,62,62)"/>
<rect x="30" y="728.2" width="39.2" height="40.8" fill="rgb(62,62,62)"/>
<rect x="68.6" y="728.2" width="39.2" height="40.8" fill="rgb(69,69,69)"/>
<rect x="107.3" y="728.2" width="39.2" height="40.8" fill="rgb(29,29,29)"/>
<rect x="145.9" y="728.2" width="39.2" height="40.8" fill="rgb(96,96,96)"/>
<rect x="184.5" y="728.2" width="39.2" height="40.8" fill="rgb(49,49,49)"/>
<rect x="223.2" y="728.2" width="39.2" height="40.8" fill="rgb(36,36,36)"/>
<rect x="261.8" y="728.2" width="39.2" height="40.8" fill="rgb(42,42,42)"/>
<rect x="300.4" y="728.2" width="39.2" height="40.8" fill="rgb(49,49,49)"/>
<rect x="339.1" y="728.2" width="39.2" height="40.8" fill="rgb(62,62,62)"/>
<rect x="377.7" y="728.2" width="39.2" height="40.8" fill="rgb(42,42,42)"/>
<rect x="416.3" y="728.2" width="39.2" height="40.8" fill="rgb(36,36,36)"/>
<rect x="455" y="728.2" width="39.2" height="40.8" fill="rgb(62,62,62)"/>
<rect x="493.6" y="728.2" width="39.2" height="40.8" fill="rgb(90,90,90)"/>
<rect x="532.2" y="728.2" width="39.2" height="40.8" fill="rgb(56,56,56)"/>
<rect x="570.9" y="728.2" width="39.2" height="40.8" fill="rgb(90,90,90)"/>
<rect x="609.5" y="728.2" width="39.2" height="40.8" fill="rgb(96,96,96)"/>
<rect x="648.1" y="728.2" width="39.2" height="40.8" fill="rgb(90,90,90)"/>
<rect x="686.8" y="728.2" width="39.2" height="40.8" fill="rgb(56,56,56)"/>
<rect x="725.4" y="728.2" width="39.2" height="40.8" fill="rgb(49,49,49)"/>
<rect x="764" y="728.2" width="39.2" height="40.8" fill="rgb(29,29,29)"/>
<rect x="802.7" y="728.2" width="39.2" height="40.8" fill="rgb(22,22,22)"/>
<rect x="841.3" y="728.2" width="39.2" height="40.8" fill="rgb(49,49,49)"/>
<rect x="879.9" y="728.2" width="39.2" height="40.8" fill="rgb(42,42,42)"/>
<rect x="918.6" y="728.2" width="39.2" height="40.8" fill="rgb(29,29,29)"/>
<rect x="957.2" y="728.2" width="39.2" height="40.8" fill="rgb(29,29,29)"/>
</g></g>
<text x="125.2" y="88.6" font-family="'Liberation Serif','Times New Roman',serif" font-weight="bold" font-size="46.5" fill="#fff" text-anchor="middle" textLength="67" lengthAdjust="spacingAndGlyphs">(a)</text>
<rect x="30" y="728.2" width="927.2" height="84.4" fill="#606060"/>
<g stroke="#b4b4b4" stroke-width="1.3" fill="none">
<line x1="30" y1="756.3" x2="494.4" y2="756.3"/>
<line x1="30" y1="785.6" x2="494.4" y2="785.6"/>
<line x1="262.3" y1="728.2" x2="262.3" y2="812.6"/>
<line x1="494.4" y1="728.2" x2="494.4" y2="812.6"/>
</g>
<g stroke="#f4f4f4" stroke-width="1.6" fill="none">
<polyline points="495.2,728.5 495.2,755.7 718.6,755.7 718.6,728.5"/>
<line x1="517.1" y1="740.8" x2="517.1" y2="755"/>
<line x1="538.6" y1="740.8" x2="538.6" y2="755"/>
<line x1="562" y1="740.8" x2="562" y2="755"/>
<line x1="583.3" y1="740.8" x2="583.3" y2="755"/>
<line x1="628.8" y1="740.8" x2="628.8" y2="755"/>
<line x1="651" y1="740.8" x2="651" y2="755"/>
<line x1="672.5" y1="740.8" x2="672.5" y2="755"/>
<line x1="696" y1="740.8" x2="696" y2="755"/>
<line x1="604.9" y1="734" x2="604.9" y2="755"/>
</g>
<rect x="909.3" y="768.8" width="37.1" height="41.9" fill="#333"/>
<path d="M923.7 795.1 L951.5 760.5 L954.6 757.2 L947 757.2 L946.3 765 Z" fill="#606060"/>
<line x1="923.7" y1="795.1" x2="954.6" y2="757" stroke="#606060" stroke-width="1.6"/>
<path d="M939 764.8 L945 757 L956 757 L950 764.8 Z" fill="#333"/>
<g font-family="'Liberation Sans',Arial,sans-serif" font-weight="bold" fill="#f2f2f2" font-size="17">
<text x="146" y="748" text-anchor="middle" textLength="190" lengthAdjust="spacingAndGlyphs">SEM MAG: 5.00 kx</text>
<text x="146" y="776.8" text-anchor="middle" textLength="138" lengthAdjust="spacingAndGlyphs">WD: 5.22 mm</text>
<text x="146" y="804.4" text-anchor="middle" textLength="198" lengthAdjust="spacingAndGlyphs">View field: 41.5 &#181;m</text>
<text x="377" y="748" text-anchor="middle" textLength="131" lengthAdjust="spacingAndGlyphs">Det: InBeam</text>
<text x="377" y="776.8" text-anchor="middle" textLength="78" lengthAdjust="spacingAndGlyphs">BI: 7.00</text>
<text x="377" y="804.4" text-anchor="middle" textLength="219" lengthAdjust="spacingAndGlyphs">Date(m/d/y): 12/30/18</text>
<text x="523" y="776.8" textLength="44" lengthAdjust="spacingAndGlyphs">1 &#181;m</text>
<text x="793.3" y="748" textLength="160.3" lengthAdjust="spacingAndGlyphs">MIRA3 TESCAN</text>
</g>
<g fill="none" stroke="#000" stroke-width="3.4">
<rect x="1074.5" y="51.7" width="903.8" height="614.2"/>
<line x1="1074.5" y1="665.9" x2="1074.5" y2="677.9"/>
<line x1="1139.1" y1="665.9" x2="1139.1" y2="677.9"/>
<line x1="1203.6" y1="665.9" x2="1203.6" y2="677.9"/>
<line x1="1268.2" y1="665.9" x2="1268.2" y2="677.9"/>
<line x1="1332.7" y1="665.9" x2="1332.7" y2="677.9"/>
<line x1="1397.3" y1="665.9" x2="1397.3" y2="677.9"/>
<line x1="1461.8" y1="665.9" x2="1461.8" y2="677.9"/>
<line x1="1526.4" y1="665.9" x2="1526.4" y2="677.9"/>
<line x1="1591" y1="665.9" x2="1591" y2="677.9"/>
<line x1="1655.5" y1="665.9" x2="1655.5" y2="677.9"/>
<line x1="1720.1" y1="665.9" x2="1720.1" y2="677.9"/>
<line x1="1784.6" y1="665.9" x2="1784.6" y2="677.9"/>
<line x1="1849.2" y1="665.9" x2="1849.2" y2="677.9"/>
<line x1="1913.7" y1="665.9" x2="1913.7" y2="677.9"/>
<line x1="1978.3" y1="665.9" x2="1978.3" y2="677.9"/>
</g>
<path d="M1074.5 657.3 L1075 656.6 L1075.5 657.5 L1076 656.5 L1076.6 657.1 L1077.1 657 L1077.6 656.2 L1078.1 656.8 L1078.6 656 L1079.1 656.5 L1079.7 655.9 L1080.2 655.6 L1080.7 656.2 L1081.2 657.7 L1081.7 656.7 L1082.2 656.4 L1082.8 657.2 L1083.3 658.6 L1083.8 658.4 L1084.3 657.8 L1084.8 659 L1085.3 657.2 L1085.9 658.3 L1086.4 657.5 L1086.9 656.6 L1087.4 656 L1087.9 656.1 L1088.4 657.5 L1089 656.6 L1089.5 657.2 L1090 657.6 L1090.5 657.2 L1091 657.4 L1091.5 656.2 L1092.1 655.4 L1092.6 655.4 L1093.1 656.5 L1093.6 656.5 L1094.1 656.2 L1094.6 656.6 L1095.2 656.5 L1095.7 655.9 L1096.2 656.8 L1096.7 657 L1097.2 655.8 L1097.7 655.8 L1098.3 655.4 L1098.8 655.9 L1099.3 655.6 L1099.8 654 L1100.3 654.5 L1100.8 652.2 L1101.4 651.2 L1101.9 651.1 L1102.4 649 L1102.9 648.1 L1103.4 645.8 L1103.9 645.6 L1104.5 645.2 L1105 643.9 L1105.5 643.3 L1106 641.1 L1106.5 640.3 L1107 639.1 L1107.6 638.1 L1108.1 637 L1108.6 637.3 L1109.1 637.8 L1109.6 637 L1110.1 637.3 L1110.7 636.3 L1111.2 637.8 L1111.7 639 L1112.2 641.2 L1112.7 642.6 L1113.2 642.6 L1113.8 643.4 L1114.3 645.2 L1114.8 645 L1115.3 646.6 L1115.8 647.2 L1116.3 647.8 L1116.8 648.4 L1117.4 650.9 L1117.9 651 L1118.4 651.7 L1118.9 652.6 L1119.4 654.6 L1119.9 653.9 L1120.5 654.6 L1121 655.4 L1121.5 656.8 L1122 657.5 L1122.5 658.1 L1123 657 L1123.6 656.8 L1124.1 656.5 L1124.6 657.7 L1125.1 658.7 L1125.6 657.2 L1126.1 656.3 L1126.7 656 L1127.2 655.8 L1127.7 656.3 L1128.2 656.9 L1128.7 656.4 L1129.2 655.4 L1129.8 655.8 L1130.3 655.9 L1130.8 656.4 L1131.3 657.6 L1131.8 657.5 L1132.3 656.9 L1132.9 656.6 L1133.4 656.4 L1133.9 654.5 L1134.4 655.3 L1134.9 655.4 L1135.4 655.6 L1136 655.5 L1136.5 654.5 L1137 654 L1137.5 653.1 L1138 654.2 L1138.5 653.5 L1139.1 653.3 L1139.6 653.7 L1140.1 654 L1140.6 654.8 L1141.1 654.6 L1141.6 654.4 L1142.2 654.7 L1142.7 654.8 L1143.2 655.6 L1143.7 655.1 L1144.2 657.1 L1144.7 657.6 L1145.3 656.7 L1145.8 656.5 L1146.3 656.6 L1146.8 656.7 L1147.3 656.1 L1147.8 657.7 L1148.4 659 L1148.9 658.4 L1149.4 658.1 L1149.9 656.9 L1150.4 656.2 L1150.9 656.4 L1151.5 656.4 L1152 657.8 L1152.5 656.9 L1153 656 L1153.5 657.9 L1154 657.9 L1154.6 657 L1155.1 657.4 L1155.6 656.4 L1156.1 657 L1156.6 658.6 L1157.1 659.2 L1157.6 659.2 L1158.2 658 L1158.7 657.6 L1159.2 656.8 L1159.7 657.9 L1160.2 658 L1160.7 658.6 L1161.3 657.9 L1161.8 657.1 L1162.3 658.2 L1162.8 659.3 L1163.3 659.7 L1163.8 659.7 L1164.4 659.8 L1164.9 659.6 L1165.4 658.2 L1165.9 658.1 L1166.4 657.6 L1166.9 656.5 L1167.5 655.8 L1168 656 L1168.5 656.1 L1169 657.3 L1169.5 658.7 L1170 658.2 L1170.6 659.2 L1171.1 659.9 L1171.6 660.2 L1172.1 658.9 L1172.6 657.7 L1173.1 657 L1173.7 656.5 L1174.2 656.2 L1174.7 657.1 L1175.2 658.4 L1175.7 659 L1176.2 658.4 L1176.8 658.5 L1177.3 658.9 L1177.8 657.3 L1178.3 657.7 L1178.8 658.7 L1179.3 658.8 L1179.9 658.7 L1180.4 657.8 L1180.9 656.3 L1181.4 656.5 L1181.9 655 L1182.4 654.5 L1183 653.8 L1183.5 650.8 L1184 648.1 L1184.5 647.2 L1185 645.8 L1185.5 643.8 L1186.1 643.4 L1186.6 644.4 L1187.1 648.1 L1187.6 651 L1188.1 651.7 L1188.6 654.4 L1189.2 656.6 L1189.7 657.3 L1190.2 657 L1190.7 657.3 L1191.2 656.4 L1191.7 655.6 L1192.3 657.6 L1192.8 657.9 L1193.3 657.8 L1193.8 658.8 L1194.3 658.1 L1194.8 658.8 L1195.4 659.1 L1195.9 657.5 L1196.4 656.7 L1196.9 656.1 L1197.4 655.5 L1197.9 655.8 L1198.4 654.9 L1199 654.5 L1199.5 653.3 L1200 654.5 L1200.5 653.7 L1201 653.5 L1201.5 654 L1202.1 655.4 L1202.6 655.2 L1203.1 656.6 L1203.6 656.6 L1204.1 656.9 L1204.6 657.1 L1205.2 656 L1205.7 656.5 L1206.2 656.1 L1206.7 655.4 L1207.2 657.1 L1207.7 656.5 L1208.3 656.9 L1208.8 657.8 L1209.3 657.9 L1209.8 657.3 L1210.3 657.5 L1210.8 657.7 L1211.4 658.4 L1211.9 657 L1212.4 657.4 L1212.9 656.8 L1213.4 656.4 L1213.9 657.5 L1214.5 657.4 L1215 657.4 L1215.5 657.9 L1216 658.5 L1216.5 657.4 L1217 656.7 L1217.6 654.9 L1218.1 651.9 L1218.6 647.3 L1219.1 639.7 L1219.6 631.7 L1220.1 625.8 L1220.7 626.9 L1221.2 632.7 L1221.7 641.2 L1222.2 648.8 L1222.7 652.3 L1223.2 655 L1223.8 657.4 L1224.3 658.4 L1224.8 657.1 L1225.3 656.2 L1225.8 656.6 L1226.3 655.8 L1226.9 655.9 L1227.4 655.5 L1227.9 656.8 L1228.4 657.9 L1228.9 658.8 L1229.4 657.5 L1230 658.1 L1230.5 658.4 L1231 657.2 L1231.5 658.4 L1232 659.4 L1232.5 658 L1233.1 659.1 L1233.6 658.3 L1234.1 658.1 L1234.6 659.3 L1235.1 659.6 L1235.6 658 L1236.2 657.7 L1236.7 657.8 L1237.2 657.4 L1237.7 656.8 L1238.2 656.7 L1238.7 657.8 L1239.2 656.6 L1239.8 657.2 L1240.3 657.3 L1240.8 656.3 L1241.3 656.5 L1241.8 657.4 L1242.3 657.6 L1242.9 656.6 L1243.4 658.3 L1243.9 658.9 L1244.4 659.7 L1244.9 658 L1245.4 657.3 L1246 656.3 L1246.5 657.7 L1247 657.2 L1247.5 656.5 L1248 656.8 L1248.5 658.3 L1249.1 659 L1249.6 657.9 L1250.1 657 L1250.6 658.4 L1251.1 658.4 L1251.6 658.7 L1252.2 657.3 L1252.7 656.4 L1253.2 657.5 L1253.7 657.4 L1254.2 656.5 L1254.7 658.2 L1255.3 658.4 L1255.8 659 L1256.3 657.4 L1256.8 658.5 L1257.3 657.1 L1257.8 658.4 L1258.4 658 L1258.9 657.5 L1259.4 657.8 L1259.9 658.9 L1260.4 657.9 L1260.9 656.9 L1261.5 657.3 L1262 656.9 L1262.5 656.2 L1263 656 L1263.5 655.5 L1264 655.7 L1264.6 656 L1265.1 656.2 L1265.6 657.5 L1266.1 657.1 L1266.6 657.4 L1267.1 656.7 L1267.7 656.7 L1268.2 655.9 L1268.7 656 L1269.2 655.4 L1269.7 657 L1270.2 657.4 L1270.8 656.7 L1271.3 657.1 L1271.8 658.4 L1272.3 657.1 L1272.8 658.2 L1273.3 657.8 L1273.9 657.7 L1274.4 658.6 L1274.9 657.9 L1275.4 657.8 L1275.9 658.2 L1276.4 659.2 L1277 658.1 L1277.5 658.8 L1278 658.8 L1278.5 658.6 L1279 657.9 L1279.5 657.3 L1280 656.2 L1280.6 655.7 L1281.1 655.2 L1281.6 656.7 L1282.1 656.2 L1282.6 655.7 L1283.1 655.2 L1283.7 656.8 L1284.2 657.7 L1284.7 657.7 L1285.2 656.5 L1285.7 655.4 L1286.2 654.5 L1286.8 653.8 L1287.3 651.8 L1287.8 650.6 L1288.3 648.6 L1288.8 648.8 L1289.3 648.9 L1289.9 648.5 L1290.4 648.3 L1290.9 650.8 L1291.4 651 L1291.9 651.1 L1292.4 648.6 L1293 642.9 L1293.5 630.1 L1294 610.1 L1294.5 585.8 L1295 563.8 L1295.5 542.9 L1296.1 519.3 L1296.6 474.3 L1297.1 388.3 L1297.6 265.9 L1298.1 176.6 L1298.6 210.8 L1299.2 330.1 L1299.7 442.6 L1300.2 512.9 L1300.7 553.5 L1301.2 582.7 L1301.7 608.8 L1302.3 630.9 L1302.8 644.1 L1303.3 650.4 L1303.8 654.4 L1304.3 653.9 L1304.8 655 L1305.4 655.5 L1305.9 654.2 L1306.4 655.5 L1306.9 656.4 L1307.4 656.1 L1307.9 656 L1308.5 655.6 L1309 652.5 L1309.5 649.9 L1310 645.4 L1310.5 640 L1311 633.1 L1311.6 626.6 L1312.1 622.3 L1312.6 623.3 L1313.1 626.4 L1313.6 630.3 L1314.1 632.4 L1314.7 633.9 L1315.2 636.1 L1315.7 639.5 L1316.2 642.4 L1316.7 647.3 L1317.2 650.4 L1317.8 652.9 L1318.3 654.6 L1318.8 655.9 L1319.3 656.2 L1319.8 655.1 L1320.3 656.4 L1320.9 657.1 L1321.4 656.9 L1321.9 656.9 L1322.4 657.1 L1322.9 655.7 L1323.4 656.6 L1323.9 655.8 L1324.5 654.8 L1325 654.6 L1325.5 655.5 L1326 654.5 L1326.5 654.9 L1327 653.9 L1327.6 644.9 L1328.1 624.4 L1328.6 595.3 L1329.1 562.6 L1329.6 524.4 L1330.1 477 L1330.7 432.3 L1331.2 418.7 L1331.7 450.6 L1332.2 499.3 L1332.7 543.6 L1333.2 578.5 L1333.8 610.4 L1334.3 634.4 L1334.8 647.8 L1335.3 652.6 L1335.8 654.8 L1336.3 656 L1336.9 656.7 L1337.4 656.2 L1337.9 656.5 L1338.4 656.6 L1338.9 656.7 L1339.4 655.9 L1340 657.5 L1340.5 656.6 L1341 658.1 L1341.5 659 L1342 657.1 L1342.5 657.1 L1343.1 658.1 L1343.6 659.1 L1344.1 658.3 L1344.6 657.4 L1345.1 656.7 L1345.6 658.2 L1346.2 657.2 L1346.7 657.6 L1347.2 656.6 L1347.7 657.1 L1348.2 658.5 L1348.7 657.2 L1349.3 658.2 L1349.8 658 L1350.3 658.8 L1350.8 658.9 L1351.3 657.7 L1351.8 658.7 L1352.4 658.2 L1352.9 656.8 L1353.4 655.8 L1353.9 656.5 L1354.4 656.8 L1354.9 656.6 L1355.5 656.1 L1356 656.3 L1356.5 656.3 L1357 657.7 L1357.5 656.4 L1358 657.5 L1358.6 658.4 L1359.1 657.1 L1359.6 658.4 L1360.1 658.6 L1360.6 659.2 L1361.1 657.9 L1361.7 657.4 L1362.2 657.1 L1362.7 658.5 L1363.2 658.3 L1363.7 657.5 L1364.2 657.2 L1364.7 656.6 L1365.3 655.6 L1365.8 655.2 L1366.3 656.7 L1366.8 656.2 L1367.3 657.5 L1367.8 656.3 L1368.4 655.5 L1368.9 655.4 L1369.4 654.1 L1369.9 653.3 L1370.4 653.6 L1370.9 652.6 L1371.5 650.7 L1372 647.8 L1372.5 645.3 L1373 642.4 L1373.5 638.3 L1374 635.2 L1374.6 631 L1375.1 630.4 L1375.6 630.1 L1376.1 632.1 L1376.6 634.5 L1377.1 636.7 L1377.7 638.9 L1378.2 643.8 L1378.7 645.7 L1379.2 648.5 L1379.7 650.5 L1380.2 651.9 L1380.8 654.2 L1381.3 656.3 L1381.8 655.9 L1382.3 656.6 L1382.8 656.2 L1383.3 656.7 L1383.9 656.5 L1384.4 655.9 L1384.9 655.5 L1385.4 655.4 L1385.9 657.1 L1386.4 657.1 L1387 656.4 L1387.5 657.8 L1388 658.8 L1388.5 658 L1389 656.6 L1389.5 655.9 L1390.1 655.2 L1390.6 655.2 L1391.1 654.5 L1391.6 654.2 L1392.1 653.9 L1392.6 654.1 L1393.2 654.8 L1393.7 654.3 L1394.2 652.8 L1394.7 651.3 L1395.2 650.3 L1395.7 649 L1396.3 647.9 L1396.8 646.4 L1397.3 646.2 L1397.8 648.2 L1398.3 647.7 L1398.8 648.8 L1399.4 650.4 L1399.9 652.4 L1400.4 652.3 L1400.9 652.8 L1401.4 653.2 L1401.9 654.2 L1402.5 655 L1403 656.9 L1403.5 657.9 L1404 658.6 L1404.5 656.8 L1405 655.8 L1405.5 656.9 L1406.1 658.1 L1406.6 657.7 L1407.1 657.8 L1407.6 656.3 L1408.1 656.4 L1408.6 657.9 L1409.2 658.5 L1409.7 658.9 L1410.2 659.5 L1410.7 657.9 L1411.2 656.6 L1411.7 655.9 L1412.3 656.4 L1412.8 657.1 L1413.3 658.2 L1413.8 658.2 L1414.3 658 L1414.8 658 L1415.4 657.2 L1415.9 656.8 L1416.4 655.1 L1416.9 655.6 L1417.4 653.9 L1417.9 653.6 L1418.5 650.8 L1419 645.1 L1419.5 636.7 L1420 626.6 L1420.5 616.1 L1421 605.9 L1421.6 598 L1422.1 597.2 L1422.6 604.8 L1423.1 616.1 L1423.6 627.4 L1424.1 636.7 L1424.7 644.7 L1425.2 648.5 L1425.7 651.5 L1426.2 653.6 L1426.7 656.1 L1427.2 656.7 L1427.8 657.8 L1428.3 657.4 L1428.8 656.5 L1429.3 656.1 L1429.8 657.7 L1430.3 658.1 L1430.9 657.3 L1431.4 656.1 L1431.9 656.6 L1432.4 657.4 L1432.9 657.2 L1433.4 656.7 L1434 657.5 L1434.5 658.6 L1435 657.5 L1435.5 656.3 L1436 656.4 L1436.5 656.7 L1437.1 657.6 L1437.6 656.8 L1438.1 657.9 L1438.6 658.5 L1439.1 658.2 L1439.6 657.2 L1440.2 658.6 L1440.7 657.8 L1441.2 658.6 L1441.7 657.5 L1442.2 656.9 L1442.7 657.9 L1443.3 657.3 L1443.8 658.7 L1444.3 658.3 L1444.8 657.2 L1445.3 656.7 L1445.8 656.9 L1446.3 657.7 L1446.9 658.9 L1447.4 657.5 L1447.9 657.3 L1448.4 656.7 L1448.9 658.4 L1449.4 657.2 L1450 656.2 L1450.5 655.7 L1451 656.2 L1451.5 657.9 L1452 658.8 L1452.5 659 L1453.1 659.8 L1453.6 660.1 L1454.1 658.7 L1454.6 657.4 L1455.1 658.7 L1455.6 658.9 L1456.2 657.2 L1456.7 657.8 L1457.2 657.4 L1457.7 657.1 L1458.2 656.9 L1458.7 656.3 L1459.3 655.5 L1459.8 655.7 L1460.3 656 L1460.8 657.8 L1461.3 656.6 L1461.8 658.1 L1462.4 657 L1462.9 656.7 L1463.4 657.7 L1463.9 658.3 L1464.4 657.5 L1464.9 656 L1465.5 656.2 L1466 655.9 L1466.5 657.1 L1467 655.7 L1467.5 654.9 L1468 654.1 L1468.6 647.8 L1469.1 639.6 L1469.6 629.4 L1470.1 617 L1470.6 601 L1471.1 582.9 L1471.7 562.2 L1472.2 542.8 L1472.7 525.6 L1473.2 522.6 L1473.7 534.9 L1474.2 554.6 L1474.8 576.7 L1475.3 599.1 L1475.8 617.3 L1476.3 631.6 L1476.8 643.8 L1477.3 650.4 L1477.9 653.5 L1478.4 653.8 L1478.9 655.7 L1479.4 657.2 L1479.9 657.4 L1480.4 658.4 L1481 656.6 L1481.5 656.1 L1482 656.5 L1482.5 658 L1483 658.9 L1483.5 658 L1484.1 657.1 L1484.6 657.1 L1485.1 657.2 L1485.6 658.5 L1486.1 657.3 L1486.6 658.2 L1487.1 658.6 L1487.7 659 L1488.2 659.2 L1488.7 658.8 L1489.2 657.9 L1489.7 657.4 L1490.2 657.1 L1490.8 658.1 L1491.3 656.8 L1491.8 656.4 L1492.3 657.6 L1492.8 657 L1493.3 656.1 L1493.9 655.6 L1494.4 656.6 L1494.9 656.6 L1495.4 658.3 L1495.9 659.1 L1496.4 659.8 L1497 658.4 L1497.5 657 L1498 656.3 L1498.5 656.9 L1499 657.8 L1499.5 657.6 L1500.1 657 L1500.6 657.1 L1501.1 657.7 L1501.6 658.2 L1502.1 658.6 L1502.6 659.2 L1503.2 659 L1503.7 657.5 L1504.2 658.5 L1504.7 657.7 L1505.2 657.9 L1505.7 657.5 L1506.3 658.2 L1506.8 657.2 L1507.3 656.8 L1507.8 656.5 L1508.3 656.1 L1508.8 657.7 L1509.4 657.9 L1509.9 657.3 L1510.4 657.2 L1510.9 658.6 L1511.4 658.2 L1511.9 657.3 L1512.5 658.2 L1513 658.3 L1513.5 659.3 L1514 657.5 L1514.5 657.4 L1515 658.2 L1515.6 658.7 L1516.1 659.1 L1516.6 657 L1517.1 656.2 L1517.6 655 L1518.1 654 L1518.7 654.7 L1519.2 653.4 L1519.7 652.6 L1520.2 649.9 L1520.7 649.3 L1521.2 648.1 L1521.8 647.8 L1522.3 649.9 L1522.8 652.6 L1523.3 652.7 L1523.8 654.4 L1524.3 655.7 L1524.9 655.5 L1525.4 655.7 L1525.9 655.2 L1526.4 655.1 L1526.9 655.1 L1527.4 655.9 L1527.9 656.5 L1528.5 655.7 L1529 654.6 L1529.5 654.7 L1530 655.5 L1530.5 654.6 L1531 654.3 L1531.6 653.5 L1532.1 654.2 L1532.6 653.4 L1533.1 650.5 L1533.6 647 L1534.1 642.7 L1534.7 636.2 L1535.2 627.1 L1535.7 614 L1536.2 600.7 L1536.7 590.7 L1537.2 584.8 L1537.8 586.2 L1538.3 594.5 L1538.8 607.8 L1539.3 618.6 L1539.8 628 L1540.3 633.3 L1540.9 635.2 L1541.4 635.1 L1541.9 633 L1542.4 628.3 L1542.9 625 L1543.4 626.3 L1544 628.8 L1544.5 632.9 L1545 640.1 L1545.5 645 L1546 649.8 L1546.5 652.2 L1547.1 654.9 L1547.6 655.5 L1548.1 655.1 L1548.6 654.5 L1549.1 655.5 L1549.6 656.4 L1550.2 657.7 L1550.7 656.3 L1551.2 656.9 L1551.7 656.7 L1552.2 656.9 L1552.7 656.1 L1553.3 656 L1553.8 656.6 L1554.3 658 L1554.8 656.7 L1555.3 656.9 L1555.8 657.9 L1556.4 658.9 L1556.9 657.5 L1557.4 656.5 L1557.9 658 L1558.4 659 L1558.9 658.3 L1559.5 656.7 L1560 658.1 L1560.5 657.4 L1561 658.4 L1561.5 658.1 L1562 658.4 L1562.6 656.7 L1563.1 656.9 L1563.6 654.9 L1564.1 653 L1564.6 651.5 L1565.1 648.8 L1565.7 644.2 L1566.2 641.2 L1566.7 641.3 L1567.2 643.8 L1567.7 647 L1568.2 649.5 L1568.7 652 L1569.3 654.9 L1569.8 657 L1570.3 656 L1570.8 656.7 L1571.3 657.6 L1571.8 656.2 L1572.4 657.5 L1572.9 656.3 L1573.4 656.9 L1573.9 656.9 L1574.4 656.9 L1574.9 655.7 L1575.5 654.4 L1576 652.9 L1576.5 650.1 L1577 647.6 L1577.5 644.8 L1578 643.6 L1578.6 643.4 L1579.1 646.9 L1579.6 650 L1580.1 652.1 L1580.6 655 L1581.1 656.9 L1581.7 657.1 L1582.2 656.4 L1582.7 656.8 L1583.2 656 L1583.7 655.6 L1584.2 656.1 L1584.8 655.6 L1585.3 656.1 L1585.8 656.7 L1586.3 655.7 L1586.8 656.7 L1587.3 655.8 L1587.9 656.9 L1588.4 657.6 L1588.9 657.1 L1589.4 655.3 L1589.9 654.9 L1590.4 653.5 L1591 653 L1591.5 649.1 L1592 647.1 L1592.5 644.9 L1593 642.4 L1593.5 641.6 L1594.1 641.1 L1594.6 644.7 L1595.1 647.3 L1595.6 651.3 L1596.1 654.3 L1596.6 654.6 L1597.2 656.5 L1597.7 658 L1598.2 656.7 L1598.7 656.6 L1599.2 657.6 L1599.7 656.7 L1600.3 658 L1600.8 657.2 L1601.3 658.2 L1601.8 657 L1602.3 657.2 L1602.8 658.4 L1603.4 657.3 L1603.9 656.8 L1604.4 657 L1604.9 656.7 L1605.4 655.6 L1605.9 655.3 L1606.5 654.8 L1607 656.4 L1607.5 656.5 L1608 656.8 L1608.5 654.9 L1609 655.2 L1609.5 653.5 L1610.1 653.6 L1610.6 654 L1611.1 653.8 L1611.6 655.3 L1612.1 655.7 L1612.6 656.2 L1613.2 657.4 L1613.7 656.3 L1614.2 658 L1614.7 658.2 L1615.2 657.7 L1615.7 658.5 L1616.3 657.6 L1616.8 658.9 L1617.3 658.6 L1617.8 657.9 L1618.3 658.5 L1618.8 658.1 L1619.4 657.1 L1619.9 658 L1620.4 656.7 L1620.9 658 L1621.4 657.2 L1621.9 657.8 L1622.5 659.1 L1623 658.8 L1623.5 658.8 L1624 657.9 L1624.5 656.5 L1625 655.8 L1625.6 655.7 L1626.1 656.8 L1626.6 657 L1627.1 657.3 L1627.6 658.5 L1628.1 657.2 L1628.7 656.6 L1629.2 657.4 L1629.7 656.2 L1630.2 655.4 L1630.7 655.8 L1631.2 655.4 L1631.8 655.8 L1632.3 655.5 L1632.8 656.2 L1633.3 656.3 L1633.8 655 L1634.3 654.5 L1634.9 652.9 L1635.4 649.9 L1635.9 648.8 L1636.4 645.3 L1636.9 642.4 L1637.4 641 L1638 642.9 L1638.5 646.1 L1639 649.3 L1639.5 651.2 L1640 652.6 L1640.5 653 L1641.1 655.1 L1641.6 656.1 L1642.1 656 L1642.6 656.7 L1643.1 656.4 L1643.6 657.2 L1644.2 656.7 L1644.7 654.5 L1645.2 653.8 L1645.7 649.8 L1646.2 647.4 L1646.7 644.4 L1647.3 641.7 L1647.8 640.1 L1648.3 642.3 L1648.8 643.4 L1649.3 646.9 L1649.8 651.2 L1650.3 652.3 L1650.9 653.5 L1651.4 655.4 L1651.9 656.3 L1652.4 657.1 L1652.9 658.1 L1653.4 657 L1654 656.7 L1654.5 656.5 L1655 655.8 L1655.5 657.5 L1656 658.3 L1656.5 658.6 L1657.1 656.9 L1657.6 658.1 L1658.1 658.6 L1658.6 658.1 L1659.1 658.6 L1659.6 658.1 L1660.2 657.2 L1660.7 656.3 L1661.2 656.2 L1661.7 655.5 L1662.2 655.9 L1662.7 657.1 L1663.3 657.7 L1663.8 658.3 L1664.3 658.2 L1664.8 656.8 L1665.3 656.5 L1665.8 655.8 L1666.4 656 L1666.9 655.3 L1667.4 654 L1667.9 654.1 L1668.4 655.1 L1668.9 654 L1669.5 655.3 L1670 654.1 L1670.5 654.3 L1671 654.5 L1671.5 656.2 L1672 657.8 L1672.6 658.3 L1673.1 657.6 L1673.6 658.6 L1674.1 657.8 L1674.6 657.1 L1675.1 658.4 L1675.7 658.5 L1676.2 658.7 L1676.7 658.7 L1677.2 659.6 L1677.7 658.7 L1678.2 659.2 L1678.8 659.1 L1679.3 659.5 L1679.8 658.6 L1680.3 658.8 L1680.8 658.6 L1681.3 657.7 L1681.9 656.9 L1682.4 657.5 L1682.9 656.5 L1683.4 658 L1683.9 656.9 L1684.4 655.9 L1685 655.5 L1685.5 657.4 L1686 657 L1686.5 656.2 L1687 655.3 L1687.5 654.8 L1688.1 655.9 L1688.6 656.2 L1689.1 656.2 L1689.6 655.7 L1690.1 653 L1690.6 651.9 L1691.1 649.8 L1691.7 648.9 L1692.2 648 L1692.7 647.6 L1693.2 645.8 L1693.7 647.7 L1694.2 650 L1694.8 652.3 L1695.3 652.2 L1695.8 652.9 L1696.3 653.4 L1696.8 653.7 L1697.3 656 L1697.9 657.4 L1698.4 657.7 L1698.9 658.4 L1699.4 658.3 L1699.9 657.4 L1700.4 656.3 L1701 655.7 L1701.5 657 L1702 656.4 L1702.5 656.3 L1703 656.5 L1703.5 655.5 L1704.1 655.6 L1704.6 655.6 L1705.1 656.8 L1705.6 656.5 L1706.1 656.1 L1706.6 657.5 L1707.2 656.9 L1707.7 657.1 L1708.2 656.2 L1708.7 653.5 L1709.2 652.1 L1709.7 650.7 L1710.3 650.2 L1710.8 648.7 L1711.3 649.1 L1711.8 649.5 L1712.3 649.4 L1712.8 651.2 L1713.4 650 L1713.9 650.4 L1714.4 648 L1714.9 645.1 L1715.4 643.1 L1715.9 643.2 L1716.5 644.2 L1717 643.3 L1717.5 644.6 L1718 645.5 L1718.5 646 L1719 642.8 L1719.6 638.4 L1720.1 631 L1720.6 622.5 L1721.1 610.4 L1721.6 600.5 L1722.1 590.9 L1722.7 586.8 L1723.2 591 L1723.7 599.8 L1724.2 610.2 L1724.7 622.4 L1725.2 631.5 L1725.8 640.6 L1726.3 646.7 L1726.8 651 L1727.3 653.3 L1727.8 654 L1728.3 654.5 L1728.9 654.8 L1729.4 656.4 L1729.9 655.3 L1730.4 656.7 L1730.9 655.4 L1731.4 655.1 L1731.9 655.1 L1732.5 656.8 L1733 656.8 L1733.5 656.4 L1734 657.5 L1734.5 656.4 L1735 656.1 L1735.6 655.9 L1736.1 656 L1736.6 655.6 L1737.1 654.6 L1737.6 652.6 L1738.1 650.9 L1738.7 649.1 L1739.2 649.8 L1739.7 650.2 L1740.2 651.2 L1740.7 651 L1741.2 652.2 L1741.8 654.3 L1742.3 655.3 L1742.8 655 L1743.3 655.8 L1743.8 657.5 L1744.3 656.8 L1744.9 656.3 L1745.4 656.3 L1745.9 657.3 L1746.4 658.3 L1746.9 657.1 L1747.4 656.4 L1748 656.2 L1748.5 656.3 L1749 656.9 L1749.5 656.3 L1750 656.4 L1750.5 656.1 L1751.1 658 L1751.6 658.5 L1752.1 657.1 L1752.6 658.6 L1753.1 657.2 L1753.6 657.1 L1754.2 658.6 L1754.7 659 L1755.2 659.1 L1755.7 658.4 L1756.2 657.3 L1756.7 657.8 L1757.3 656.8 L1757.8 656.4 L1758.3 656.6 L1758.8 655.9 L1759.3 656.3 L1759.8 657.6 L1760.4 658.2 L1760.9 658 L1761.4 658.2 L1761.9 657.9 L1762.4 656.9 L1762.9 657.5 L1763.5 657.3 L1764 658.1 L1764.5 658.9 L1765 658.2 L1765.5 658.2 L1766 658.6 L1766.6 658 L1767.1 657.1 L1767.6 657.8 L1768.1 658.6 L1768.6 658.9 L1769.1 658.8 L1769.7 659.1 L1770.2 658.8 L1770.7 658.5 L1771.2 657.8 L1771.7 656.9 L1772.2 657.2 L1772.8 655.9 L1773.3 655.8 L1773.8 656.6 L1774.3 656.7 L1774.8 656.2 L1775.3 654.2 L1775.8 652.3 L1776.4 649.3 L1776.9 644.9 L1777.4 637.9 L1777.9 629.8 L1778.4 621.7 L1778.9 612.9 L1779.5 610.3 L1780 613.9 L1780.5 620.7 L1781 629.6 L1781.5 639.3 L1782 644.4 L1782.6 649.5 L1783.1 651.6 L1783.6 654.5 L1784.1 656.6 L1784.6 656.8 L1785.1 655.8 L1785.7 656.5 L1786.2 656.8 L1786.7 657.5 L1787.2 657.4 L1787.7 657.7 L1788.2 658.4 L1788.8 658.1 L1789.3 657.6 L1789.8 658.7 L1790.3 657.5 L1790.8 658 L1791.3 657.5 L1791.9 658.2 L1792.4 657 L1792.9 658.5 L1793.4 657.8 L1793.9 656.6 L1794.4 656.4 L1795 656.7 L1795.5 655.8 L1796 656.3 L1796.5 656.7 L1797 657.6 L1797.5 657.2 L1798.1 656.8 L1798.6 656.4 L1799.1 657.5 L1799.6 658.7 L1800.1 658.3 L1800.6 657.2 L1801.2 658 L1801.7 657.3 L1802.2 656.3 L1802.7 655.3 L1803.2 656.1 L1803.7 656.4 L1804.3 655.8 L1804.8 654.8 L1805.3 654.1 L1805.8 652.7 L1806.3 653.8 L1806.8 653.1 L1807.4 653.7 L1807.9 654.8 L1808.4 655.9 L1808.9 655.9 L1809.4 655.6 L1809.9 656.3 L1810.5 655.8 L1811 657.3 L1811.5 657.1 L1812 658.2 L1812.5 657.4 L1813 657.2 L1813.6 656.8 L1814.1 657 L1814.6 656.5 L1815.1 655.7 L1815.6 657.1 L1816.1 656.8 L1816.6 656.5 L1817.2 656.5 L1817.7 657 L1818.2 657.1 L1818.7 657.7 L1819.2 658.1 L1819.7 657.6 L1820.3 658.8 L1820.8 659.2 L1821.3 657.4 L1821.8 658.3 L1822.3 658.9 L1822.8 658.8 L1823.4 657 L1823.9 657.5 L1824.4 657 L1824.9 654.9 L1825.4 653.4 L1825.9 654.7 L1826.5 654.7 L1827 653.6 L1827.5 652.7 L1828 652.5 L1828.5 652.9 L1829 654.8 L1829.6 655.1 L1830.1 654.9 L1830.6 656.9 L1831.1 657.9 L1831.6 656.9 L1832.1 658.3 L1832.7 658.3 L1833.2 658.9 L1833.7 658.9 L1834.2 659.5 L1834.7 659.6 L1835.2 659.7 L1835.8 658.2 L1836.3 658.6 L1836.8 658.4 L1837.3 658.8 L1837.8 658.2 L1838.3 659.1 L1838.9 658.7 L1839.4 657.8 L1839.9 657.1 L1840.4 656.5 L1840.9 657 L1841.4 656.2 L1842 656.8 L1842.5 656.3 L1843 656.9 L1843.5 657.3 L1844 657.6 L1844.5 658.6 L1845.1 657 L1845.6 658.2 L1846.1 658 L1846.6 658.1 L1847.1 658.4 L1847.6 659 L1848.2 658.2 L1848.7 657.8 L1849.2 658.9 L1849.7 657.2 L1850.2 657.6 L1850.7 657.8 L1851.3 656.1 L1851.8 656.4 L1852.3 656.6 L1852.8 657 L1853.3 655.4 L1853.8 655.9 L1854.4 654.7 L1854.9 653.8 L1855.4 654.3 L1855.9 652.6 L1856.4 653.6 L1856.9 654.3 L1857.4 654.3 L1858 656 L1858.5 655.9 L1859 656.3 L1859.5 656.8 L1860 657.8 L1860.5 657 L1861.1 657.1 L1861.6 657.2 L1862.1 657.6 L1862.6 658.5 L1863.1 657.7 L1863.6 658.6 L1864.2 658 L1864.7 658 L1865.2 657.3 L1865.7 657.5 L1866.2 658.9 L1866.7 658.9 L1867.3 659.2 L1867.8 658.2 L1868.3 657.6 L1868.8 657.2 L1869.3 657.7 L1869.8 658.1 L1870.4 658.7 L1870.9 657.2 L1871.4 658 L1871.9 658.9 L1872.4 658.6 L1872.9 657.1 L1873.5 656.9 L1874 655.9 L1874.5 655.9 L1875 657.7 L1875.5 658 L1876 658.3 L1876.6 658.8 L1877.1 659.3 L1877.6 658.9 L1878.1 658.5 L1878.6 658.2 L1879.1 658.1 L1879.7 657.5 L1880.2 657 L1880.7 655.2 L1881.2 654.8 L1881.7 653.5 L1882.2 653.1 L1882.8 650.7 L1883.3 649.3 L1883.8 648.1 L1884.3 649.6 L1884.8 651.3 L1885.3 652.2 L1885.9 652.5 L1886.4 654.4 L1886.9 655.8 L1887.4 656.3 L1887.9 656 L1888.4 656 L1889 656.4 L1889.5 656.4 L1890 656.8 L1890.5 657.5 L1891 658.7 L1891.5 657.2 L1892.1 657.6 L1892.6 656.5 L1893.1 656 L1893.6 657.5 L1894.1 657.8 L1894.6 658.9 L1895.2 658.3 L1895.7 656.9 L1896.2 657 L1896.7 657.6 L1897.2 658.8 L1897.7 659.7 L1898.2 658.9 L1898.8 658.3 L1899.3 657.1 L1899.8 657.8 L1900.3 657.1 L1900.8 656.5 L1901.3 655.8 L1901.9 655.3 L1902.4 656.8 L1902.9 656.3 L1903.4 658.1 L1903.9 657 L1904.4 658.3 L1905 657.2 L1905.5 656.2 L1906 657.4 L1906.5 656.9 L1907 657.9 L1907.5 657.1 L1908.1 656.2 L1908.6 657.6 L1909.1 658.2 L1909.6 659 L1910.1 659.1 L1910.6 657.5 L1911.2 658 L1911.7 658.5 L1912.2 658.1 L1912.7 659.1 L1913.2 657.9 L1913.7 659.1 L1914.3 659.1 L1914.8 657.3 L1915.3 656.2 L1915.8 657.2 L1916.3 658.2 L1916.8 656.9 L1917.4 656.6 L1917.9 657.6 L1918.4 656.6 L1918.9 657.7 L1919.4 657.3 L1919.9 655.8 L1920.5 655.4 L1921 655.5 L1921.5 654.8 L1922 654.8 L1922.5 653.1 L1923 653.5 L1923.6 652.6 L1924.1 652.9 L1924.6 653.2 L1925.1 653.1 L1925.6 653.3 L1926.1 654.7 L1926.7 656.1 L1927.2 656.6 L1927.7 656.2 L1928.2 655 L1928.7 653.3 L1929.2 654 L1929.8 652.9 L1930.3 651.6 L1930.8 648.5 L1931.3 646.4 L1931.8 645.3 L1932.3 643.8 L1932.9 642.3 L1933.4 641.3 L1933.9 642 L1934.4 644.8 L1934.9 646.3 L1935.4 649 L1936 651.1 L1936.5 653.8 L1937 655.5 L1937.5 655.4 L1938 654.8 L1938.5 655.2 L1939 655.9 L1939.6 656.7 L1940.1 657.9 L1940.6 658.7 L1941.1 657.1 L1941.6 658.2 L1942.1 658.8 L1942.7 659.3 L1943.2 658.8 L1943.7 657.8 L1944.2 658.7 L1944.7 659.1 L1945.2 659.1 L1945.8 659.6 L1946.3 658.5 L1946.8 657.1 L1947.3 657.6 L1947.8 658.4 L1948.3 657.4 L1948.9 658.2 L1949.4 659.2 L1949.9 658 L1950.4 658.2 L1950.9 658.5 L1951.4 658.2 L1952 657.3 L1952.5 656.9 L1953 658 L1953.5 658.7 L1954 658.3 L1954.5 657.1 L1955.1 658.2 L1955.6 658.8 L1956.1 657.7 L1956.6 658 L1957.1 659 L1957.6 659.6 L1958.2 659 L1958.7 658.5 L1959.2 658.5 L1959.7 657.5 L1960.2 656.9 L1960.7 656.5 L1961.3 657.6 L1961.8 657.4 L1962.3 657.8 L1962.8 657.6 L1963.3 657.8 L1963.8 656.9 L1964.4 656.2 L1964.9 658.2 L1965.4 657.8 L1965.9 656.8 L1966.4 657.6 L1966.9 658.5 L1967.5 657.4 L1968 657.9 L1968.5 657.5 L1969 657.7 L1969.5 656.6 L1970 655.9 L1970.6 658 L1971.1 658.9 L1971.6 658.5 L1972.1 658.5 L1972.6 657.6 L1973.1 658.5 L1973.7 658.1 L1974.2 659.2 L1974.7 659.4 L1975.2 659.7 L1975.7 660.2 L1976.2 658.7 L1976.8 657.2 L1977.3 656.7 L1977.8 656.4 L1978.3 655.9" fill="none" stroke="#ff0000" stroke-width="7" stroke-linejoin="round" stroke-linecap="round"/>
<g font-family="'Liberation Serif','Times New Roman',serif" fill="#000">
<text x="1074.5" y="726.6" font-size="43" text-anchor="middle">10</text>
<text x="1139.1" y="726.6" font-size="43" text-anchor="middle">15</text>
<text x="1203.6" y="726.6" font-size="43" text-anchor="middle">20</text>
<text x="1268.2" y="726.6" font-size="43" text-anchor="middle">25</text>
<text x="1332.7" y="726.6" font-size="43" text-anchor="middle">30</text>
<text x="1397.3" y="726.6" font-size="43" text-anchor="middle">35</text>
<text x="1461.8" y="726.6" font-size="43" text-anchor="middle">40</text>
<text x="1526.4" y="726.6" font-size="43" text-anchor="middle">45</text>
<text x="1591" y="726.6" font-size="43" text-anchor="middle">50</text>
<text x="1655.5" y="726.6" font-size="43" text-anchor="middle">55</text>
<text x="1720.1" y="726.6" font-size="43" text-anchor="middle">60</text>
<text x="1784.6" y="726.6" font-size="43" text-anchor="middle">65</text>
<text x="1849.2" y="726.6" font-size="43" text-anchor="middle">70</text>
<text x="1913.7" y="726.6" font-size="43" text-anchor="middle">75</text>
<text x="1978.3" y="726.6" font-size="43" text-anchor="middle">80</text>
<text x="1525.6" y="786.5" font-size="45" text-anchor="middle">2&#920; (deg.)</text>
<text transform="translate(1052,451.6) rotate(-90)" font-size="46" text-anchor="middle" textLength="276" lengthAdjust="spacingAndGlyphs">Intensity (a. u.)</text>
<text x="1822" y="127" font-size="48.5" font-weight="bold" text-anchor="middle" textLength="58" lengthAdjust="spacingAndGlyphs">(b)</text>
<text x="1821" y="237.6" font-size="48" text-anchor="middle">* SiO<tspan font-size="29" dy="9">2</tspan></text>
<text x="1821" y="289.8" font-size="48" text-anchor="middle">o CaCO<tspan font-size="29" dy="9">3</tspan></text>
<text x="1821" y="341" font-size="48" text-anchor="middle">&#215; Al<tspan font-size="29" dy="9">2</tspan><tspan dy="-9">O</tspan><tspan font-size="29" dy="9">3</tspan></text>
<text x="1821" y="393.3" font-size="48" text-anchor="middle">+ F<tspan font-size="29" dy="9">2</tspan><tspan dy="-9">O</tspan><tspan font-size="29" dy="9">3</tspan></text>
<text x="1304.8" y="148" font-size="54" text-anchor="middle" textLength="22" lengthAdjust="spacingAndGlyphs">*</text>
<text x="1229" y="618.1" font-size="54" text-anchor="middle" textLength="22" lengthAdjust="spacingAndGlyphs">*</text>
<text x="1431.5" y="605" font-size="54" text-anchor="middle" textLength="22" lengthAdjust="spacingAndGlyphs">*</text>
<text x="1482.5" y="509.5" font-size="54" text-anchor="middle" textLength="22" lengthAdjust="spacingAndGlyphs">*</text>
<text x="1542" y="585" font-size="54" text-anchor="middle" textLength="22" lengthAdjust="spacingAndGlyphs">*</text>
<text x="1731.8" y="585.4" font-size="54" text-anchor="middle" textLength="22" lengthAdjust="spacingAndGlyphs">*</text>
<text x="1788.8" y="616.4" font-size="54" text-anchor="middle" textLength="22" lengthAdjust="spacingAndGlyphs">*</text>
<text x="1893.7" y="627.7" font-size="54" text-anchor="middle" textLength="22" lengthAdjust="spacingAndGlyphs">*</text>
<text x="1930" y="636.1" font-size="54" text-anchor="middle" textLength="22" lengthAdjust="spacingAndGlyphs">*</text>
<text x="1615.7" y="638.5" font-size="54" text-anchor="middle" textLength="22" lengthAdjust="spacingAndGlyphs">*</text>
<text x="1653.3" y="637" font-size="54" text-anchor="middle" textLength="22" lengthAdjust="spacingAndGlyphs">*</text>
<text x="1668.5" y="644.2" font-size="54" text-anchor="middle" textLength="22" lengthAdjust="spacingAndGlyphs">*</text>
<text x="1352.5" y="401" font-size="48" text-anchor="middle">o</text>
<text x="1108.8" y="626.6" font-size="52" text-anchor="middle">+</text>
<text x="1175.6" y="631.6" font-size="52" text-anchor="middle">+</text>
<text x="1320" y="609.6" font-size="48" text-anchor="middle">x</text>
<text x="1380.3" y="606.8" font-size="48" text-anchor="middle">o</text>
<text x="1562.3" y="632" font-size="49" letter-spacing="-4.3">oo</text>
</g>
<g fill="none" stroke="#000" stroke-width="3.5">
<rect x="160.9" y="977.1" width="717.1" height="659.2"/>
<line x1="147.9" y1="1636.3" x2="160.9" y2="1636.3"/>
<line x1="147.9" y1="1570.4" x2="160.9" y2="1570.4"/>
<line x1="147.9" y1="1504.5" x2="160.9" y2="1504.5"/>
<line x1="147.9" y1="1438.5" x2="160.9" y2="1438.5"/>
<line x1="147.9" y1="1372.6" x2="160.9" y2="1372.6"/>
<line x1="147.9" y1="1306.7" x2="160.9" y2="1306.7"/>
<line x1="147.9" y1="1240.8" x2="160.9" y2="1240.8"/>
<line x1="147.9" y1="1174.9" x2="160.9" y2="1174.9"/>
<line x1="147.9" y1="1108.9" x2="160.9" y2="1108.9"/>
<line x1="147.9" y1="1043" x2="160.9" y2="1043"/>
<line x1="147.9" y1="977.1" x2="160.9" y2="977.1"/>
<line x1="160.9" y1="1636.3" x2="160.9" y2="1649.3"/>
<line x1="519.5" y1="1636.3" x2="519.5" y2="1649.3"/>
<line x1="878" y1="1636.3" x2="878" y2="1649.3"/>
</g>
<polyline points="877.6,1052.8 868,1056 855,1061 826.7,1069.3 814.2,1084.4 798.5,1117.8 781.8,1167.5 765.7,1209 743,1247.7 706.7,1290.5 676.6,1317.7 638.7,1330.4 604.2,1341.6 567.4,1353.1 529.9,1365 492.9,1376.6 457.5,1389.1 413.4,1402.3 383.1,1410.3 345.7,1420.7" fill="none" stroke="#000" stroke-width="6" stroke-linejoin="round"/>
<rect x="862.4" y="1037.5" width="30.5" height="30.5" fill="#c00000" stroke="#5b9bd5" stroke-width="3"/>
<rect x="852.8" y="1040.8" width="30.5" height="30.5" fill="#c00000" stroke="#5b9bd5" stroke-width="3"/>
<rect x="839.8" y="1045.8" width="30.5" height="30.5" fill="#c00000" stroke="#5b9bd5" stroke-width="3"/>
<rect x="811.5" y="1054" width="30.5" height="30.5" fill="#c00000" stroke="#5b9bd5" stroke-width="3"/>
<rect x="799" y="1069.2" width="30.5" height="30.5" fill="#c00000" stroke="#5b9bd5" stroke-width="3"/>
<rect x="783.2" y="1102.5" width="30.5" height="30.5" fill="#c00000" stroke="#5b9bd5" stroke-width="3"/>
<rect x="766.5" y="1152.2" width="30.5" height="30.5" fill="#c00000" stroke="#5b9bd5" stroke-width="3"/>
<rect x="750.5" y="1193.8" width="30.5" height="30.5" fill="#c00000" stroke="#5b9bd5" stroke-width="3"/>
<rect x="727.8" y="1232.5" width="30.5" height="30.5" fill="#c00000" stroke="#5b9bd5" stroke-width="3"/>
<rect x="691.5" y="1275.2" width="30.5" height="30.5" fill="#c00000" stroke="#5b9bd5" stroke-width="3"/>
<rect x="661.4" y="1302.5" width="30.5" height="30.5" fill="#c00000" stroke="#5b9bd5" stroke-width="3"/>
<rect x="623.5" y="1315.2" width="30.5" height="30.5" fill="#c00000" stroke="#5b9bd5" stroke-width="3"/>
<rect x="589" y="1326.3" width="30.5" height="30.5" fill="#c00000" stroke="#5b9bd5" stroke-width="3"/>
<rect x="552.1" y="1337.8" width="30.5" height="30.5" fill="#c00000" stroke="#5b9bd5" stroke-width="3"/>
<rect x="514.6" y="1349.8" width="30.5" height="30.5" fill="#c00000" stroke="#5b9bd5" stroke-width="3"/>
<rect x="477.6" y="1361.3" width="30.5" height="30.5" fill="#c00000" stroke="#5b9bd5" stroke-width="3"/>
<rect x="442.2" y="1373.8" width="30.5" height="30.5" fill="#c00000" stroke="#5b9bd5" stroke-width="3"/>
<rect x="398.1" y="1387" width="30.5" height="30.5" fill="#c00000" stroke="#5b9bd5" stroke-width="3"/>
<rect x="367.9" y="1395" width="30.5" height="30.5" fill="#c00000" stroke="#5b9bd5" stroke-width="3"/>
<rect x="330.4" y="1405.5" width="30.5" height="30.5" fill="#c00000" stroke="#5b9bd5" stroke-width="3"/>
<polyline points="167.1,1498.8 181.8,1482 203.8,1470.1 218.1,1464.5 230.1,1458.9 245.2,1454.9 261.2,1450.2 275.5,1445.4 290.7,1441.4 305,1435.8 342.5,1426.2 379.2,1415.9 413.4,1405.5 449.6,1395.6 486.2,1383.6 522.9,1372.1 560.4,1359.7 596.3,1347.8 633.7,1335.8 668.8,1324.6 704.7,1311.9 743,1295.2 758.3,1283.8 799.7,1266.9 820.5,1232.4 827.5,1192.1 838.8,1116.6 852.1,1071.6 858.4,1067 864.7,1062.3 870.1,1059.1 876.4,1055.2" fill="none" stroke="#000" stroke-width="6" stroke-linejoin="round"/>
<circle cx="167.1" cy="1498.8" r="15.3" fill="#3e5b24" stroke="#000" stroke-width="3.2"/>
<circle cx="181.8" cy="1482" r="15.3" fill="#3e5b24" stroke="#000" stroke-width="3.2"/>
<circle cx="203.8" cy="1470.1" r="15.3" fill="#3e5b24" stroke="#000" stroke-width="3.2"/>
<circle cx="218.1" cy="1464.5" r="15.3" fill="#3e5b24" stroke="#000" stroke-width="3.2"/>
<circle cx="230.1" cy="1458.9" r="15.3" fill="#3e5b24" stroke="#000" stroke-width="3.2"/>
<circle cx="245.2" cy="1454.9" r="15.3" fill="#3e5b24" stroke="#000" stroke-width="3.2"/>
<circle cx="261.2" cy="1450.2" r="15.3" fill="#3e5b24" stroke="#000" stroke-width="3.2"/>
<circle cx="275.5" cy="1445.4" r="15.3" fill="#3e5b24" stroke="#000" stroke-width="3.2"/>
<circle cx="290.7" cy="1441.4" r="15.3" fill="#3e5b24" stroke="#000" stroke-width="3.2"/>
<circle cx="305" cy="1435.8" r="15.3" fill="#3e5b24" stroke="#000" stroke-width="3.2"/>
<circle cx="342.5" cy="1426.2" r="15.3" fill="#3e5b24" stroke="#000" stroke-width="3.2"/>
<circle cx="379.2" cy="1415.9" r="15.3" fill="#3e5b24" stroke="#000" stroke-width="3.2"/>
<circle cx="413.4" cy="1405.5" r="15.3" fill="#3e5b24" stroke="#000" stroke-width="3.2"/>
<circle cx="449.6" cy="1395.6" r="15.3" fill="#3e5b24" stroke="#000" stroke-width="3.2"/>
<circle cx="486.2" cy="1383.6" r="15.3" fill="#3e5b24" stroke="#000" stroke-width="3.2"/>
<circle cx="522.9" cy="1372.1" r="15.3" fill="#3e5b24" stroke="#000" stroke-width="3.2"/>
<circle cx="560.4" cy="1359.7" r="15.3" fill="#3e5b24" stroke="#000" stroke-width="3.2"/>
<circle cx="596.3" cy="1347.8" r="15.3" fill="#3e5b24" stroke="#000" stroke-width="3.2"/>
<circle cx="633.7" cy="1335.8" r="15.3" fill="#3e5b24" stroke="#000" stroke-width="3.2"/>
<circle cx="668.8" cy="1324.6" r="15.3" fill="#3e5b24" stroke="#000" stroke-width="3.2"/>
<circle cx="704.7" cy="1311.9" r="15.3" fill="#3e5b24" stroke="#000" stroke-width="3.2"/>
<circle cx="743" cy="1295.2" r="15.3" fill="#3e5b24" stroke="#000" stroke-width="3.2"/>
<circle cx="758.3" cy="1283.8" r="15.3" fill="#3e5b24" stroke="#000" stroke-width="3.2"/>
<circle cx="799.7" cy="1266.9" r="15.3" fill="#3e5b24" stroke="#000" stroke-width="3.2"/>
<circle cx="820.5" cy="1232.4" r="15.3" fill="#3e5b24" stroke="#000" stroke-width="3.2"/>
<circle cx="827.5" cy="1192.1" r="15.3" fill="#3e5b24" stroke="#000" stroke-width="3.2"/>
<circle cx="838.8" cy="1116.6" r="15.3" fill="#3e5b24" stroke="#000" stroke-width="3.2"/>
<circle cx="852.1" cy="1071.6" r="15.3" fill="#3e5b24" stroke="#000" stroke-width="3.2"/>
<circle cx="858.4" cy="1067" r="15.3" fill="#3e5b24" stroke="#000" stroke-width="3.2"/>
<circle cx="864.7" cy="1062.3" r="15.3" fill="#3e5b24" stroke="#000" stroke-width="3.2"/>
<circle cx="870.1" cy="1059.1" r="15.3" fill="#3e5b24" stroke="#000" stroke-width="3.2"/>
<circle cx="876.4" cy="1055.2" r="15.3" fill="#3e5b24" stroke="#000" stroke-width="3.2"/>
<line x1="296" y1="1137.6" x2="382.1" y2="1137.6" stroke="#000" stroke-width="6.4" stroke-linecap="round"/>
<rect x="327.5" y="1126.6" width="22" height="22" fill="#c00000" stroke="#5b9bd5" stroke-width="3"/>
<line x1="296" y1="1204.2" x2="382.1" y2="1204.2" stroke="#000" stroke-width="6.4" stroke-linecap="round"/>
<circle cx="338.5" cy="1204.2" r="11" fill="#3e5b24" stroke="#000" stroke-width="3"/>
<g font-family="'Liberation Serif','Times New Roman',serif" fill="#000">
<text x="126.5" y="1650.8" font-size="43" text-anchor="end">0</text>
<text x="126.5" y="1584.9" font-size="43" text-anchor="end">20</text>
<text x="126.5" y="1519" font-size="43" text-anchor="end">40</text>
<text x="126.5" y="1453" font-size="43" text-anchor="end">60</text>
<text x="126.5" y="1387.1" font-size="43" text-anchor="end">80</text>
<text x="126.5" y="1321.2" font-size="43" text-anchor="end">100</text>
<text x="126.5" y="1255.3" font-size="43" text-anchor="end">120</text>
<text x="126.5" y="1189.4" font-size="43" text-anchor="end">140</text>
<text x="126.5" y="1123.4" font-size="43" text-anchor="end">160</text>
<text x="126.5" y="1057.5" font-size="43" text-anchor="end">180</text>
<text x="126.5" y="991.6" font-size="43" text-anchor="end">200</text>
<text x="160.9" y="1698" font-size="43" text-anchor="middle">0</text>
<text x="519.5" y="1698" font-size="43" text-anchor="middle">0.5</text>
<text x="878" y="1698" font-size="43" text-anchor="middle">1</text>
<text x="518.4" y="1766.6" font-size="54" text-anchor="middle">p/p<tspan font-size="38" dy="12.8">0</tspan></text>
<text transform="translate(41,1307) rotate(-90)" font-size="48" text-anchor="middle"><tspan font-style="italic">V</tspan><tspan font-style="italic" font-size="29" dy="9">a</tspan><tspan dy="-9">/cm</tspan><tspan font-size="32" dy="-16">3</tspan><tspan dy="16">(STP) g</tspan><tspan font-size="32" dy="-16">-1</tspan></text>
<text x="249" y="1044.5" font-size="50" font-weight="bold" text-anchor="middle">(c)</text>
<text x="391.2" y="1150.4" font-size="41">Desorption</text>
<text x="391.6" y="1217.2" font-size="41">Adsorption</text>
</g>
<g fill="none" stroke="#000">
<line x1="1221.4" y1="963.6" x2="1970.2" y2="963.6" stroke-width="2.2"/>
<line x1="1970.2" y1="963.6" x2="1970.2" y2="1634.3" stroke-width="2.2"/>
<line x1="1221.4" y1="962.6" x2="1221.4" y2="1634.3" stroke-width="3"/>
<line x1="1220.4" y1="1634.3" x2="1971.2" y2="1634.3" stroke-width="3"/>
<line x1="1207.9" y1="1634.3" x2="1221.4" y2="1634.3" stroke-width="2.6"/>
<line x1="1207.9" y1="1410.7" x2="1221.4" y2="1410.7" stroke-width="2.6"/>
<line x1="1207.9" y1="1187.2" x2="1221.4" y2="1187.2" stroke-width="2.6"/>
<line x1="1207.9" y1="963.6" x2="1221.4" y2="963.6" stroke-width="2.6"/>
<line x1="1221.4" y1="1634.3" x2="1221.4" y2="1647.8" stroke-width="2.6"/>
<line x1="1595.8" y1="1634.3" x2="1595.8" y2="1647.8" stroke-width="2.6"/>
<line x1="1970.2" y1="1634.3" x2="1970.2" y2="1647.8" stroke-width="2.6"/>
</g>
<polyline points="1262.8,1114.6 1308.4,1090.3 1327.8,1086.9 1347.2,1097.1 1367,1114.1 1387.1,1137.4 1407.8,1162.4 1428.7,1191.5 1449.6,1222.2 1471,1255.4 1492.5,1288.1 1514.4,1319.5 1536.8,1349.8 1559.2,1377.5 1582.4,1402.8 1605.3,1420.9 1627.7,1432.1 1650.9,1439.8 1673.9,1450 1698.2,1463.8 1723.2,1479.9 1747.1,1491.6 1770.3,1497.5 1792.4,1498.7 1815.4,1500.1 1842.3,1506.2 1864.9,1510.7 1888,1504.7 1914.2,1527 1938.9,1550.6 1959.8,1600.2" fill="none" stroke="#000" stroke-width="3.6" stroke-linejoin="round"/>
<path d="M1262.8 1102.6l12 12l-12 12l-12 -12z" fill="#5b9bd5"/>
<path d="M1308.4 1078.3l12 12l-12 12l-12 -12z" fill="#5b9bd5"/>
<path d="M1327.8 1074.9l12 12l-12 12l-12 -12z" fill="#5b9bd5"/>
<path d="M1347.2 1085.1l12 12l-12 12l-12 -12z" fill="#5b9bd5"/>
<path d="M1367 1102.1l12 12l-12 12l-12 -12z" fill="#5b9bd5"/>
<path d="M1387.1 1125.4l12 12l-12 12l-12 -12z" fill="#5b9bd5"/>
<path d="M1407.8 1150.4l12 12l-12 12l-12 -12z" fill="#5b9bd5"/>
<path d="M1428.7 1179.5l12 12l-12 12l-12 -12z" fill="#5b9bd5"/>
<path d="M1449.6 1210.2l12 12l-12 12l-12 -12z" fill="#5b9bd5"/>
<path d="M1471 1243.4l12 12l-12 12l-12 -12z" fill="#5b9bd5"/>
<path d="M1492.5 1276.1l12 12l-12 12l-12 -12z" fill="#5b9bd5"/>
<path d="M1514.4 1307.5l12 12l-12 12l-12 -12z" fill="#5b9bd5"/>
<path d="M1536.8 1337.8l12 12l-12 12l-12 -12z" fill="#5b9bd5"/>
<path d="M1559.2 1365.5l12 12l-12 12l-12 -12z" fill="#5b9bd5"/>
<path d="M1582.4 1390.8l12 12l-12 12l-12 -12z" fill="#5b9bd5"/>
<path d="M1605.3 1408.9l12 12l-12 12l-12 -12z" fill="#5b9bd5"/>
<path d="M1627.7 1420.1l12 12l-12 12l-12 -12z" fill="#5b9bd5"/>
<path d="M1650.9 1427.8l12 12l-12 12l-12 -12z" fill="#5b9bd5"/>
<path d="M1673.9 1438l12 12l-12 12l-12 -12z" fill="#5b9bd5"/>
<path d="M1698.2 1451.8l12 12l-12 12l-12 -12z" fill="#5b9bd5"/>
<path d="M1723.2 1467.9l12 12l-12 12l-12 -12z" fill="#5b9bd5"/>
<path d="M1747.1 1479.6l12 12l-12 12l-12 -12z" fill="#5b9bd5"/>
<path d="M1770.3 1485.5l12 12l-12 12l-12 -12z" fill="#5b9bd5"/>
<path d="M1792.4 1486.7l12 12l-12 12l-12 -12z" fill="#5b9bd5"/>
<path d="M1815.4 1488.1l12 12l-12 12l-12 -12z" fill="#5b9bd5"/>
<path d="M1842.3 1494.2l12 12l-12 12l-12 -12z" fill="#5b9bd5"/>
<path d="M1864.9 1498.7l12 12l-12 12l-12 -12z" fill="#5b9bd5"/>
<path d="M1888 1492.7l12 12l-12 12l-12 -12z" fill="#5b9bd5"/>
<path d="M1914.2 1515l12 12l-12 12l-12 -12z" fill="#5b9bd5"/>
<path d="M1938.9 1538.6l12 12l-12 12l-12 -12z" fill="#5b9bd5"/>
<path d="M1959.8 1588.2l12 12l-12 12l-12 -12z" fill="#5b9bd5"/>
<g font-family="'Liberation Serif','Times New Roman',serif" fill="#000">
<text x="1181" y="1650.1" font-size="47" text-anchor="end" textLength="22.5" lengthAdjust="spacingAndGlyphs">0</text>
<text x="1181" y="1426.5" font-size="47" text-anchor="end" textLength="123.7" lengthAdjust="spacingAndGlyphs">0.0015</text>
<text x="1181" y="1203" font-size="47" text-anchor="end" textLength="101.2" lengthAdjust="spacingAndGlyphs">0.003</text>
<text x="1181" y="979.4" font-size="47" text-anchor="end" textLength="123.7" lengthAdjust="spacingAndGlyphs">0.0045</text>
<text x="1221.4" y="1702.4" font-size="46.5" text-anchor="middle">1</text>
<text x="1595.8" y="1702.4" font-size="46.5" text-anchor="middle">10</text>
<text x="1970.2" y="1702.4" font-size="46.5" text-anchor="middle">100</text>
<text x="1596.5" y="1767.8" font-size="50" text-anchor="middle"><tspan font-style="italic">r</tspan><tspan font-style="italic" font-size="29" dy="10.6">p</tspan><tspan dy="-10.6">/nm</tspan></text>
<text transform="translate(1034,1299) rotate(-90)" font-size="50" text-anchor="middle">d<tspan font-style="italic">V</tspan><tspan font-style="italic" font-size="32" dy="11.5">p</tspan><tspan dy="-11.5">/d</tspan><tspan font-style="italic">r</tspan><tspan font-style="italic" font-size="32" dy="11.5">p</tspan></text>
<text x="1308.5" y="1036.5" font-size="50" font-weight="bold" text-anchor="middle">(d)</text>
<text x="1526.4" y="1036.8" font-size="50">BJH-Plot</text>
</g>
</svg>
</body></html>
